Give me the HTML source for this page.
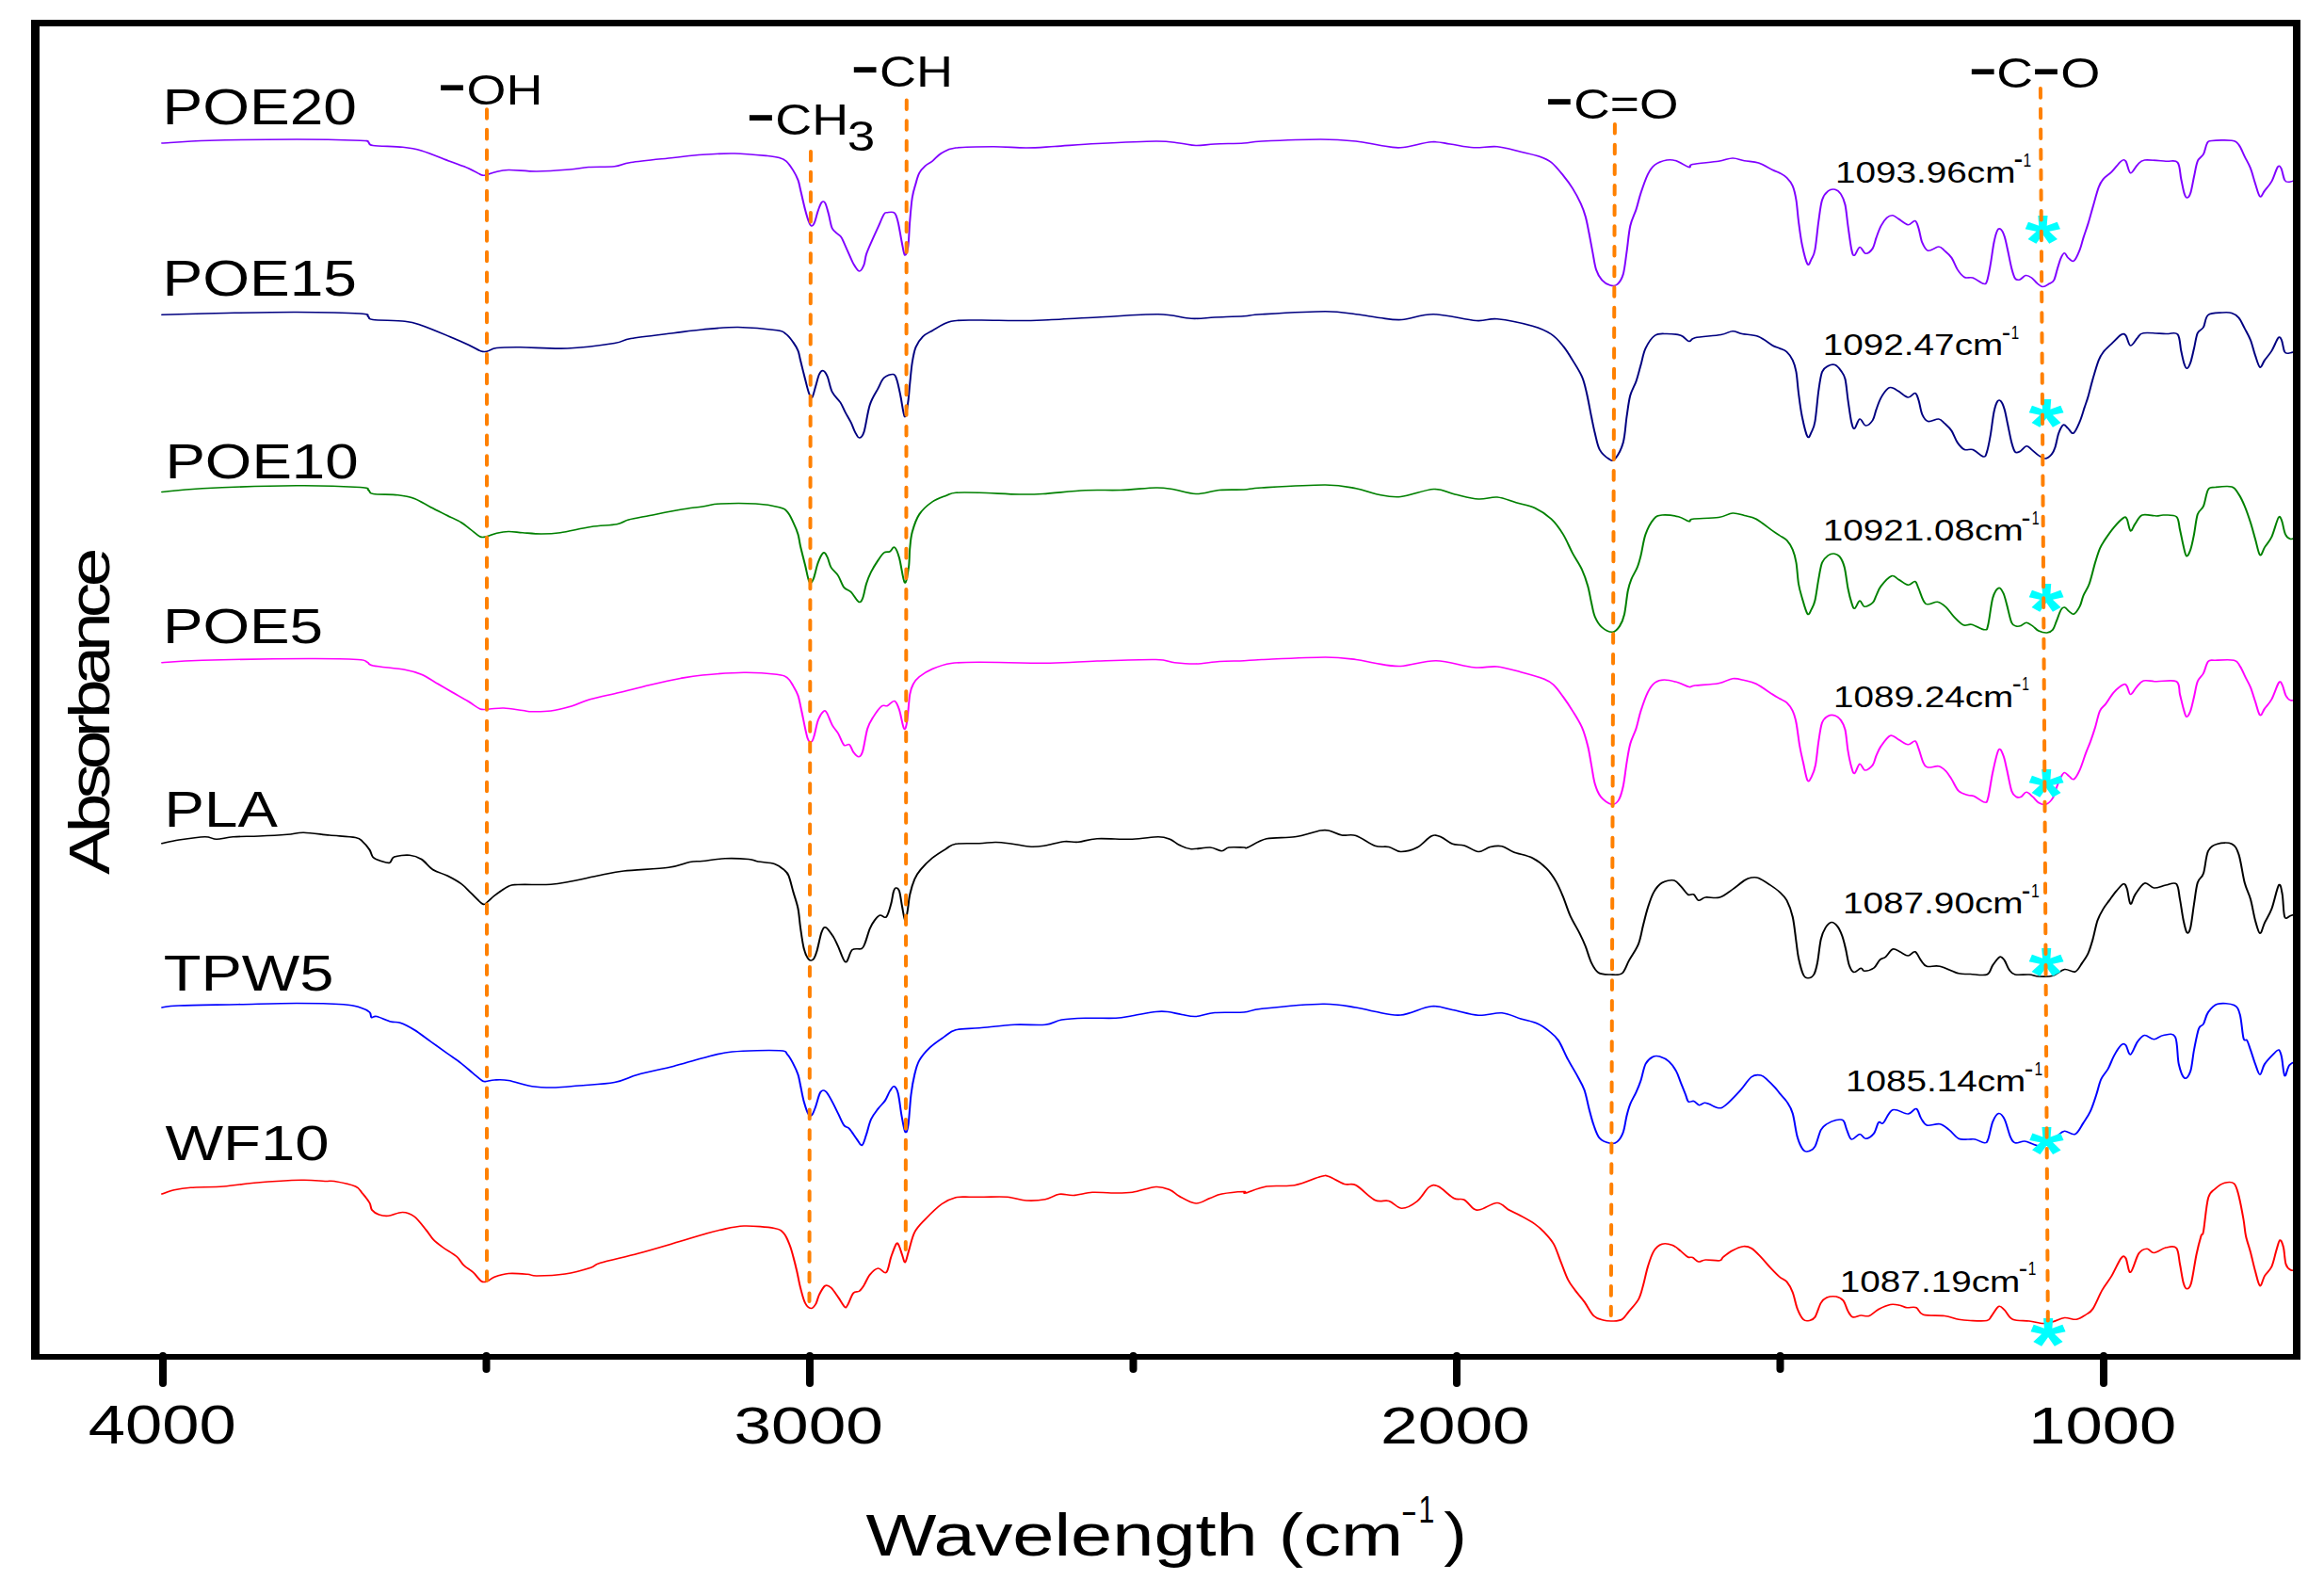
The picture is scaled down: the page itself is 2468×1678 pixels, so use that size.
<!DOCTYPE html><html><head><meta charset="utf-8"><title>FTIR spectra</title><style>html,body{margin:0;padding:0;background:#fff;}svg{display:block;}text{font-family:'Liberation Sans', Arial, Helvetica, sans-serif;}</style></head><body>
<svg width="2468" height="1678" viewBox="0 0 2468 1678">
<rect x="0" y="0" width="2468" height="1678" fill="#fff"/>
<g fill="none" stroke-width="1.6" stroke-linejoin="round" stroke-linecap="round" transform="scale(1.25,1)">
<path stroke="#8000ff" d="M137.60,152.00C144.33,151.54 158.93,149.92 178.00,149.25C197.07,148.58 230.67,148.00 252.00,148.00C273.33,148.00 295.87,148.79 306.00,149.25C316.13,149.71 311.00,149.88 312.80,150.75C314.60,151.62 311.93,153.58 316.80,154.50C321.67,155.42 335.13,155.33 342.00,156.25C348.87,157.17 351.33,157.50 358.00,160.00C364.67,162.50 375.33,168.12 382.00,171.25C388.67,174.38 393.53,176.33 398.00,178.75C402.47,181.17 406.33,184.58 408.80,185.75C411.27,186.92 410.93,186.21 412.80,185.75C414.67,185.29 416.80,183.88 420.00,183.00C423.20,182.12 426.00,180.67 432.00,180.50C438.00,180.33 447.33,182.08 456.00,182.00C464.67,181.92 476.67,180.75 484.00,180.00C491.33,179.25 493.67,178.04 500.00,177.50C506.33,176.96 516.00,177.58 522.00,176.75C528.00,175.92 527.67,174.04 536.00,172.50C544.33,170.96 561.87,168.88 572.00,167.50C582.13,166.12 588.13,165.00 596.80,164.25C605.47,163.50 614.80,162.79 624.00,163.00C633.20,163.21 645.67,164.75 652.00,165.50C658.33,166.25 659.33,166.54 662.00,167.50C664.67,168.46 666.00,168.96 668.00,171.25C670.00,173.54 672.33,177.92 674.00,181.25C675.67,184.58 677.00,187.92 678.00,191.25C679.00,194.58 679.00,196.04 680.00,201.25C681.00,206.46 682.83,216.88 684.00,222.50C685.17,228.12 686.10,232.08 687.00,235.00C687.90,237.92 688.57,239.79 689.40,240.00C690.23,240.21 691.07,238.96 692.00,236.25C692.93,233.54 694.00,227.29 695.00,223.75C696.00,220.21 697.00,216.38 698.00,215.00C699.00,213.62 700.00,213.42 701.00,215.50C702.00,217.58 703.00,223.00 704.00,227.50C705.00,232.00 705.67,238.96 707.00,242.50C708.33,246.04 710.67,247.08 712.00,248.75C713.33,250.42 713.67,249.58 715.00,252.50C716.33,255.42 718.33,261.67 720.00,266.25C721.67,270.83 723.33,276.38 725.00,280.00C726.67,283.62 728.50,287.79 730.00,288.00C731.50,288.21 733.00,284.25 734.00,281.25C735.00,278.25 734.83,274.38 736.00,270.00C737.17,265.62 739.33,259.79 741.00,255.00C742.67,250.21 744.33,245.83 746.00,241.25C747.67,236.67 749.67,230.08 751.00,227.50C752.33,224.92 752.50,225.96 754.00,225.75C755.50,225.54 758.50,224.50 760.00,226.25C761.50,228.00 762.00,231.25 763.00,236.25C764.00,241.25 765.07,250.50 766.00,256.25C766.93,262.00 767.77,269.29 768.60,270.75C769.43,272.21 770.43,267.62 771.00,265.00C771.57,262.38 771.67,260.00 772.00,255.00C772.33,250.00 772.50,242.50 773.00,235.00C773.50,227.50 774.17,216.67 775.00,210.00C775.83,203.33 777.00,199.38 778.00,195.00C779.00,190.62 779.67,186.88 781.00,183.75C782.33,180.62 784.17,178.33 786.00,176.25C787.83,174.17 789.67,173.54 792.00,171.25C794.33,168.96 796.67,164.88 800.00,162.50C803.33,160.12 804.67,158.12 812.00,157.00C819.33,155.88 834.00,155.75 844.00,155.75C854.00,155.75 863.33,157.04 872.00,157.00C880.67,156.96 886.00,156.25 896.00,155.50C906.00,154.75 917.67,153.42 932.00,152.50C946.33,151.58 970.33,150.08 982.00,150.00C993.67,149.92 996.33,151.25 1002.00,152.00C1007.67,152.75 1011.00,154.33 1016.00,154.50C1021.00,154.67 1025.20,153.42 1032.00,153.00C1038.80,152.58 1050.13,152.50 1056.80,152.00C1063.47,151.50 1061.13,150.67 1072.00,150.00C1082.87,149.33 1108.67,148.00 1122.00,148.00C1135.33,148.00 1143.67,148.96 1152.00,150.00C1160.33,151.04 1165.67,153.12 1172.00,154.25C1178.33,155.38 1182.67,157.33 1190.00,156.75C1197.33,156.17 1209.00,151.38 1216.00,150.75C1223.00,150.12 1226.00,152.00 1232.00,153.00C1238.00,154.00 1245.33,156.29 1252.00,156.75C1258.67,157.21 1265.33,155.00 1272.00,155.75C1278.67,156.50 1286.00,159.50 1292.00,161.25C1298.00,163.00 1303.67,164.38 1308.00,166.25C1312.33,168.12 1314.67,169.17 1318.00,172.50C1321.33,175.83 1325.00,181.67 1328.00,186.25C1331.00,190.83 1333.50,195.00 1336.00,200.00C1338.50,205.00 1341.17,211.25 1343.00,216.25C1344.83,221.25 1345.83,224.79 1347.00,230.00C1348.17,235.21 1349.00,241.25 1350.00,247.50C1351.00,253.75 1352.00,261.04 1353.00,267.50C1354.00,273.96 1354.67,281.25 1356.00,286.25C1357.33,291.25 1359.00,294.71 1361.00,297.50C1363.00,300.29 1365.83,302.25 1368.00,303.00C1370.17,303.75 1372.17,303.96 1374.00,302.00C1375.83,300.04 1377.67,297.00 1379.00,291.25C1380.33,285.50 1381.00,276.04 1382.00,267.50C1383.00,258.96 1383.67,247.50 1385.00,240.00C1386.33,232.50 1388.50,228.33 1390.00,222.50C1391.50,216.67 1392.33,211.25 1394.00,205.00C1395.67,198.75 1398.00,190.00 1400.00,185.00C1402.00,180.00 1403.33,177.50 1406.00,175.00C1408.67,172.50 1413.00,170.71 1416.00,170.00C1419.00,169.29 1420.83,169.50 1424.00,170.75C1427.17,172.00 1432.67,176.88 1435.00,177.50C1437.33,178.12 1433.83,175.54 1438.00,174.50C1442.17,173.46 1454.33,172.33 1460.00,171.25C1465.67,170.17 1468.33,168.08 1472.00,168.00C1475.67,167.92 1478.33,169.92 1482.00,170.75C1485.67,171.58 1490.00,171.38 1494.00,173.00C1498.00,174.62 1503.00,178.71 1506.00,180.50C1509.00,182.29 1510.00,182.38 1512.00,183.75C1514.00,185.12 1516.17,186.46 1518.00,188.75C1519.83,191.04 1521.67,193.54 1523.00,197.50C1524.33,201.46 1525.17,206.25 1526.00,212.50C1526.83,218.75 1527.17,227.08 1528.00,235.00C1528.83,242.92 1529.73,252.42 1531.00,260.00C1532.27,267.58 1534.27,278.00 1535.60,280.50C1536.93,283.00 1537.93,277.58 1539.00,275.00C1540.07,272.42 1541.00,271.67 1542.00,265.00C1543.00,258.33 1544.00,243.75 1545.00,235.00C1546.00,226.25 1546.67,217.83 1548.00,212.50C1549.33,207.17 1551.17,204.88 1553.00,203.00C1554.83,201.12 1557.17,200.71 1559.00,201.25C1560.83,201.79 1562.57,203.54 1564.00,206.25C1565.43,208.96 1566.60,211.88 1567.60,217.50C1568.60,223.12 1569.10,232.08 1570.00,240.00C1570.90,247.92 1572.10,259.79 1573.00,265.00C1573.90,270.21 1574.23,271.67 1575.40,271.25C1576.57,270.83 1578.40,262.83 1580.00,262.50C1581.60,262.17 1583.17,269.04 1585.00,269.25C1586.83,269.46 1589.50,266.54 1591.00,263.75C1592.50,260.96 1592.83,256.46 1594.00,252.50C1595.17,248.54 1596.50,243.54 1598.00,240.00C1599.50,236.46 1601.33,233.12 1603.00,231.25C1604.67,229.38 1606.33,228.54 1608.00,228.75C1609.67,228.96 1610.83,230.83 1613.00,232.50C1615.17,234.17 1618.67,238.42 1621.00,238.75C1623.33,239.08 1625.50,233.88 1627.00,234.50C1628.50,235.12 1629.00,238.67 1630.00,242.50C1631.00,246.33 1631.67,253.54 1633.00,257.50C1634.33,261.46 1635.67,265.50 1638.00,266.25C1640.33,267.00 1644.67,262.00 1647.00,262.00C1649.33,262.00 1650.17,264.29 1652.00,266.25C1653.83,268.21 1656.17,270.42 1658.00,273.75C1659.83,277.08 1661.17,282.79 1663.00,286.25C1664.83,289.71 1666.83,293.04 1669.00,294.50C1671.17,295.96 1673.33,293.88 1676.00,295.00C1678.67,296.12 1683.00,300.62 1685.00,301.25C1687.00,301.88 1687.00,302.08 1688.00,298.75C1689.00,295.42 1690.00,288.12 1691.00,281.25C1692.00,274.38 1693.00,263.62 1694.00,257.50C1695.00,251.38 1696.00,246.79 1697.00,244.50C1698.00,242.21 1699.00,242.62 1700.00,243.75C1701.00,244.88 1702.07,247.71 1703.00,251.25C1703.93,254.79 1704.60,259.38 1705.60,265.00C1706.60,270.62 1707.93,279.88 1709.00,285.00C1710.07,290.12 1710.83,293.75 1712.00,295.75C1713.17,297.75 1714.50,297.54 1716.00,297.00C1717.50,296.46 1719.33,292.83 1721.00,292.50C1722.67,292.17 1724.33,293.54 1726.00,295.00C1727.67,296.46 1729.40,299.67 1731.00,301.25C1732.60,302.83 1733.93,304.50 1735.60,304.50C1737.27,304.50 1739.43,302.42 1741.00,301.25C1742.57,300.08 1743.83,300.21 1745.00,297.50C1746.17,294.79 1747.00,288.96 1748.00,285.00C1749.00,281.04 1750.00,276.46 1751.00,273.75C1752.00,271.04 1753.00,268.75 1754.00,268.75C1755.00,268.75 1755.67,272.38 1757.00,273.75C1758.33,275.12 1760.33,278.46 1762.00,277.00C1763.67,275.54 1765.67,269.08 1767.00,265.00C1768.33,260.92 1768.83,257.08 1770.00,252.50C1771.17,247.92 1772.67,242.92 1774.00,237.50C1775.33,232.08 1776.50,226.46 1778.00,220.00C1779.50,213.54 1781.50,203.75 1783.00,198.75C1784.50,193.75 1785.17,192.71 1787.00,190.00C1788.83,187.29 1791.50,185.62 1794.00,182.50C1796.50,179.38 1800.00,173.12 1802.00,171.25C1804.00,169.38 1804.67,169.17 1806.00,171.25C1807.33,173.33 1808.33,183.12 1810.00,183.75C1811.67,184.38 1814.00,177.29 1816.00,175.00C1818.00,172.71 1818.00,170.62 1822.00,170.00C1826.00,169.38 1835.33,170.83 1840.00,171.25C1844.67,171.67 1847.83,169.38 1850.00,172.50C1852.17,175.62 1852.07,184.58 1853.00,190.00C1853.93,195.42 1854.77,201.67 1855.60,205.00C1856.43,208.33 1857.10,210.00 1858.00,210.00C1858.90,210.00 1860.00,208.75 1861.00,205.00C1862.00,201.25 1863.00,193.12 1864.00,187.50C1865.00,181.88 1865.67,175.21 1867.00,171.25C1868.33,167.29 1870.67,166.88 1872.00,163.75C1873.33,160.62 1873.83,154.88 1875.00,152.50C1876.17,150.12 1875.50,150.04 1879.00,149.50C1882.50,148.96 1892.17,148.54 1896.00,149.25C1899.83,149.96 1900.17,150.92 1902.00,153.75C1903.83,156.58 1905.33,162.08 1907.00,166.25C1908.67,170.42 1910.50,173.96 1912.00,178.75C1913.50,183.54 1914.67,190.00 1916.00,195.00C1917.33,200.00 1918.67,207.50 1920.00,208.75C1921.33,210.00 1922.33,205.21 1924.00,202.50C1925.67,199.79 1928.17,196.67 1930.00,192.50C1931.83,188.33 1933.67,179.79 1935.00,177.50C1936.33,175.21 1937.00,176.46 1938.00,178.75C1939.00,181.04 1939.83,188.83 1941.00,191.25C1942.17,193.67 1943.17,193.38 1945.00,193.25C1946.83,193.12 1950.83,190.96 1952.00,190.50"/>
<path stroke="#000080" d="M137.60,334.25C146.67,333.96 172.93,332.96 192.00,332.50C211.07,332.04 233.00,331.42 252.00,331.50C271.00,331.58 295.87,332.21 306.00,333.00C316.13,333.79 311.00,335.17 312.80,336.25C314.60,337.33 311.60,338.67 316.80,339.50C322.00,340.33 337.13,340.25 344.00,341.25C350.87,342.25 351.67,342.79 358.00,345.50C364.33,348.21 375.33,354.04 382.00,357.50C388.67,360.96 393.53,363.67 398.00,366.25C402.47,368.83 406.13,371.88 408.80,373.00C411.47,374.12 411.80,373.58 414.00,373.00C416.20,372.42 417.33,370.21 422.00,369.50C426.67,368.79 432.00,368.67 442.00,368.75C452.00,368.83 468.67,370.71 482.00,370.00C495.33,369.29 513.00,366.25 522.00,364.50C531.00,362.75 527.67,361.29 536.00,359.50C544.33,357.71 561.87,355.33 572.00,353.75C582.13,352.17 587.63,351.04 596.80,350.00C605.97,348.96 616.47,347.38 627.00,347.50C637.53,347.62 653.17,349.50 660.00,350.75C666.83,352.00 665.67,352.83 668.00,355.00C670.33,357.17 672.33,360.83 674.00,363.75C675.67,366.67 677.00,369.38 678.00,372.50C679.00,375.62 679.00,377.50 680.00,382.50C681.00,387.50 682.77,396.58 684.00,402.50C685.23,408.42 686.40,414.75 687.40,418.00C688.40,421.25 689.07,423.33 690.00,422.00C690.93,420.67 692.00,414.08 693.00,410.00C694.00,405.92 694.93,400.21 696.00,397.50C697.07,394.79 698.23,393.33 699.40,393.75C700.57,394.17 701.73,396.25 703.00,400.00C704.27,403.75 705.17,411.67 707.00,416.25C708.83,420.83 712.17,423.96 714.00,427.50C715.83,431.04 716.50,433.96 718.00,437.50C719.50,441.04 721.60,445.21 723.00,448.75C724.40,452.29 725.23,456.04 726.40,458.75C727.57,461.46 728.73,465.00 730.00,465.00C731.27,465.00 732.50,464.58 734.00,458.75C735.50,452.92 737.00,437.71 739.00,430.00C741.00,422.29 744.00,417.29 746.00,412.50C748.00,407.71 748.83,403.75 751.00,401.25C753.17,398.75 757.17,397.08 759.00,397.50C760.83,397.92 761.00,400.00 762.00,403.75C763.00,407.50 763.90,413.54 765.00,420.00C766.10,426.46 767.53,441.25 768.60,442.50C769.67,443.75 770.67,433.33 771.40,427.50C772.13,421.67 772.40,414.58 773.00,407.50C773.60,400.42 774.17,391.46 775.00,385.00C775.83,378.54 776.50,373.33 778.00,368.75C779.50,364.17 781.67,360.42 784.00,357.50C786.33,354.58 788.00,353.96 792.00,351.25C796.00,348.54 801.33,343.12 808.00,341.25C814.67,339.38 823.00,340.12 832.00,340.00C841.00,339.88 853.00,340.50 862.00,340.50C871.00,340.50 874.33,340.58 886.00,340.00C897.67,339.42 915.67,338.04 932.00,337.00C948.33,335.96 970.67,333.54 984.00,333.75C997.33,333.96 1004.00,337.71 1012.00,338.25C1020.00,338.79 1024.53,337.42 1032.00,337.00C1039.47,336.58 1050.13,336.29 1056.80,335.75C1063.47,335.21 1060.47,334.58 1072.00,333.75C1083.53,332.92 1112.67,330.75 1126.00,330.75C1139.33,330.75 1144.33,332.62 1152.00,333.75C1159.67,334.88 1165.50,336.54 1172.00,337.50C1178.50,338.46 1183.33,340.12 1191.00,339.50C1198.67,338.88 1207.50,333.58 1218.00,333.75C1228.50,333.92 1245.00,339.67 1254.00,340.50C1263.00,341.33 1264.00,337.79 1272.00,338.75C1280.00,339.71 1294.33,343.54 1302.00,346.25C1309.67,348.96 1313.67,351.46 1318.00,355.00C1322.33,358.54 1325.00,362.92 1328.00,367.50C1331.00,372.08 1333.33,377.08 1336.00,382.50C1338.67,387.92 1342.00,394.17 1344.00,400.00C1346.00,405.83 1346.67,410.42 1348.00,417.50C1349.33,424.58 1350.83,435.42 1352.00,442.50C1353.17,449.58 1353.83,454.17 1355.00,460.00C1356.17,465.83 1357.00,472.92 1359.00,477.50C1361.00,482.08 1364.83,485.83 1367.00,487.50C1369.17,489.17 1370.00,490.42 1372.00,487.50C1374.00,484.58 1377.33,477.50 1379.00,470.00C1380.67,462.50 1381.00,450.83 1382.00,442.50C1383.00,434.17 1383.67,426.25 1385.00,420.00C1386.33,413.75 1388.50,410.42 1390.00,405.00C1391.50,399.58 1392.67,393.33 1394.00,387.50C1395.33,381.67 1396.00,375.21 1398.00,370.00C1400.00,364.79 1403.00,358.83 1406.00,356.25C1409.00,353.67 1412.33,354.50 1416.00,354.50C1419.67,354.50 1424.83,354.92 1428.00,356.25C1431.17,357.58 1433.00,362.08 1435.00,362.50C1437.00,362.92 1435.50,359.92 1440.00,358.75C1444.50,357.58 1456.67,356.67 1462.00,355.50C1467.33,354.33 1469.00,351.92 1472.00,351.75C1475.00,351.58 1476.33,353.54 1480.00,354.50C1483.67,355.46 1489.67,355.42 1494.00,357.50C1498.33,359.58 1503.00,364.92 1506.00,367.00C1509.00,369.08 1510.00,368.88 1512.00,370.00C1514.00,371.12 1516.17,371.67 1518.00,373.75C1519.83,375.83 1521.67,378.96 1523.00,382.50C1524.33,386.04 1525.17,389.17 1526.00,395.00C1526.83,400.83 1527.17,409.58 1528.00,417.50C1528.83,425.42 1529.73,434.79 1531.00,442.50C1532.27,450.21 1534.27,461.04 1535.60,463.75C1536.93,466.46 1537.93,461.46 1539.00,458.75C1540.07,456.04 1541.00,454.79 1542.00,447.50C1543.00,440.21 1544.00,423.75 1545.00,415.00C1546.00,406.25 1546.67,399.38 1548.00,395.00C1549.33,390.62 1551.17,390.00 1553.00,388.75C1554.83,387.50 1557.17,386.67 1559.00,387.50C1560.83,388.33 1562.57,391.25 1564.00,393.75C1565.43,396.25 1566.60,397.29 1567.60,402.50C1568.60,407.71 1569.10,417.29 1570.00,425.00C1570.90,432.71 1572.07,443.75 1573.00,448.75C1573.93,453.75 1574.43,455.62 1575.60,455.00C1576.77,454.38 1578.43,445.50 1580.00,445.00C1581.57,444.50 1583.17,451.79 1585.00,452.00C1586.83,452.21 1589.50,449.08 1591.00,446.25C1592.50,443.42 1592.83,438.96 1594.00,435.00C1595.17,431.04 1596.33,426.25 1598.00,422.50C1599.67,418.75 1602.33,414.25 1604.00,412.50C1605.67,410.75 1606.50,411.50 1608.00,412.00C1609.50,412.50 1610.83,413.83 1613.00,415.50C1615.17,417.17 1618.67,421.67 1621.00,422.00C1623.33,422.33 1625.50,417.00 1627.00,417.50C1628.50,418.00 1629.00,421.25 1630.00,425.00C1631.00,428.75 1631.67,436.25 1633.00,440.00C1634.33,443.75 1635.67,446.67 1638.00,447.50C1640.33,448.33 1644.67,444.67 1647.00,445.00C1649.33,445.33 1650.17,447.42 1652.00,449.50C1653.83,451.58 1656.17,454.08 1658.00,457.50C1659.83,460.92 1661.17,466.67 1663.00,470.00C1664.83,473.33 1666.83,476.25 1669.00,477.50C1671.17,478.75 1673.33,476.25 1676.00,477.50C1678.67,478.75 1683.00,484.58 1685.00,485.00C1687.00,485.42 1687.00,483.75 1688.00,480.00C1689.00,476.25 1690.00,469.58 1691.00,462.50C1692.00,455.42 1693.00,443.54 1694.00,437.50C1695.00,431.46 1696.00,428.12 1697.00,426.25C1698.00,424.38 1699.00,424.79 1700.00,426.25C1701.00,427.71 1702.07,431.04 1703.00,435.00C1703.93,438.96 1704.60,444.17 1705.60,450.00C1706.60,455.83 1707.93,465.00 1709.00,470.00C1710.07,475.00 1710.83,478.42 1712.00,480.00C1713.17,481.58 1714.40,480.54 1716.00,479.50C1717.60,478.46 1719.93,474.08 1721.60,473.75C1723.27,473.42 1724.27,475.83 1726.00,477.50C1727.73,479.17 1730.07,482.17 1732.00,483.75C1733.93,485.33 1735.77,487.21 1737.60,487.00C1739.43,486.79 1741.60,484.50 1743.00,482.50C1744.40,480.50 1745.00,478.75 1746.00,475.00C1747.00,471.25 1747.83,463.96 1749.00,460.00C1750.17,456.04 1751.67,452.08 1753.00,451.25C1754.33,450.42 1755.57,453.54 1757.00,455.00C1758.43,456.46 1759.93,461.25 1761.60,460.00C1763.27,458.75 1765.43,452.08 1767.00,447.50C1768.57,442.92 1769.83,436.88 1771.00,432.50C1772.17,428.12 1772.83,426.25 1774.00,421.25C1775.17,416.25 1776.50,408.96 1778.00,402.50C1779.50,396.04 1781.50,387.29 1783.00,382.50C1784.50,377.71 1785.17,376.67 1787.00,373.75C1788.83,370.83 1791.50,368.04 1794.00,365.00C1796.50,361.96 1800.00,356.96 1802.00,355.50C1804.00,354.04 1804.67,354.33 1806.00,356.25C1807.33,358.17 1808.33,366.58 1810.00,367.00C1811.67,367.42 1814.17,360.96 1816.00,358.75C1817.83,356.54 1817.00,354.46 1821.00,353.75C1825.00,353.04 1835.17,354.29 1840.00,354.50C1844.83,354.71 1847.83,352.00 1850.00,355.00C1852.17,358.00 1852.07,367.29 1853.00,372.50C1853.93,377.71 1854.77,383.12 1855.60,386.25C1856.43,389.38 1857.10,391.46 1858.00,391.25C1858.90,391.04 1860.00,388.54 1861.00,385.00C1862.00,381.46 1863.00,375.21 1864.00,370.00C1865.00,364.79 1865.67,357.50 1867.00,353.75C1868.33,350.00 1870.50,350.71 1872.00,347.50C1873.50,344.29 1873.33,337.08 1876.00,334.50C1878.67,331.92 1884.67,332.33 1888.00,332.00C1891.33,331.67 1893.67,331.58 1896.00,332.50C1898.33,333.42 1900.17,334.79 1902.00,337.50C1903.83,340.21 1905.33,344.79 1907.00,348.75C1908.67,352.71 1910.50,356.46 1912.00,361.25C1913.50,366.04 1914.67,372.71 1916.00,377.50C1917.33,382.29 1918.67,389.17 1920.00,390.00C1921.33,390.83 1922.33,385.42 1924.00,382.50C1925.67,379.58 1928.07,376.46 1930.00,372.50C1931.93,368.54 1934.20,360.62 1935.60,358.75C1937.00,356.88 1937.50,358.75 1938.40,361.25C1939.30,363.75 1939.90,371.46 1941.00,373.75C1942.10,376.04 1943.17,375.21 1945.00,375.00C1946.83,374.79 1950.83,372.92 1952.00,372.50"/>
<path stroke="#008000" d="M137.60,522.50C143.33,521.88 152.93,519.88 172.00,518.75C191.07,517.62 229.67,515.96 252.00,515.75C274.33,515.54 295.83,516.71 306.00,517.50C316.17,518.29 311.17,519.33 313.00,520.50C314.83,521.67 312.83,523.62 317.00,524.50C321.17,525.38 332.17,524.92 338.00,525.75C343.83,526.58 347.33,527.33 352.00,529.50C356.67,531.67 361.33,535.75 366.00,538.75C370.67,541.75 375.67,544.79 380.00,547.50C384.33,550.21 388.67,552.50 392.00,555.00C395.33,557.50 397.33,560.00 400.00,562.50C402.67,565.00 405.67,568.83 408.00,570.00C410.33,571.17 411.67,570.12 414.00,569.50C416.33,568.88 419.00,567.08 422.00,566.25C425.00,565.42 428.33,564.58 432.00,564.50C435.67,564.42 439.33,565.33 444.00,565.75C448.67,566.17 454.67,567.00 460.00,567.00C465.33,567.00 469.00,567.00 476.00,565.75C483.00,564.50 494.00,561.00 502.00,559.50C510.00,558.00 518.67,558.00 524.00,556.75C529.33,555.50 529.33,553.54 534.00,552.00C538.67,550.46 544.67,549.29 552.00,547.50C559.33,545.71 570.53,542.83 578.00,541.25C585.47,539.67 591.13,539.04 596.80,538.00C602.47,536.96 604.47,535.50 612.00,535.00C619.53,534.50 633.67,534.38 642.00,535.00C650.33,535.62 657.50,537.29 662.00,538.75C666.50,540.21 667.00,541.04 669.00,543.75C671.00,546.46 672.50,551.04 674.00,555.00C675.50,558.96 677.00,563.33 678.00,567.50C679.00,571.67 679.00,574.58 680.00,580.00C681.00,585.42 682.73,593.67 684.00,600.00C685.27,606.33 686.43,615.50 687.60,618.00C688.77,620.50 689.77,618.42 691.00,615.00C692.23,611.58 693.57,602.17 695.00,597.50C696.43,592.83 698.27,587.92 699.60,587.00C700.93,586.08 701.93,589.42 703.00,592.00C704.07,594.58 704.50,599.29 706.00,602.50C707.50,605.71 710.17,607.71 712.00,611.25C713.83,614.79 715.17,620.83 717.00,623.75C718.83,626.67 720.90,626.17 723.00,628.75C725.10,631.33 727.93,638.21 729.60,639.25C731.27,640.29 731.93,638.21 733.00,635.00C734.07,631.79 734.83,624.58 736.00,620.00C737.17,615.42 738.33,611.67 740.00,607.50C741.67,603.33 744.17,598.42 746.00,595.00C747.83,591.58 749.33,588.54 751.00,587.00C752.67,585.46 754.50,586.71 756.00,585.75C757.50,584.79 758.67,580.12 760.00,581.25C761.33,582.38 762.57,586.25 764.00,592.50C765.43,598.75 767.27,617.08 768.60,618.75C769.93,620.42 771.27,608.54 772.00,602.50C772.73,596.46 772.50,588.75 773.00,582.50C773.50,576.25 773.67,571.04 775.00,565.00C776.33,558.96 778.17,551.58 781.00,546.25C783.83,540.92 788.17,536.33 792.00,533.00C795.83,529.67 800.67,527.88 804.00,526.25C807.33,524.62 807.33,523.75 812.00,523.25C816.67,522.75 823.00,522.96 832.00,523.25C841.00,523.54 857.00,524.79 866.00,525.00C875.00,525.21 876.67,525.21 886.00,524.50C895.33,523.79 911.00,521.42 922.00,520.75C933.00,520.08 942.00,520.96 952.00,520.50C962.00,520.04 974.67,518.17 982.00,518.00C989.33,517.83 990.33,518.42 996.00,519.50C1001.67,520.58 1009.33,524.33 1016.00,524.50C1022.67,524.67 1029.20,521.25 1036.00,520.50C1042.80,519.75 1050.80,520.42 1056.80,520.00C1062.80,519.58 1060.47,518.83 1072.00,518.00C1083.53,517.17 1112.67,514.88 1126.00,515.00C1139.33,515.12 1144.67,517.08 1152.00,518.75C1159.33,520.42 1163.67,523.54 1170.00,525.00C1176.33,526.46 1182.00,528.42 1190.00,527.50C1198.00,526.58 1210.33,519.92 1218.00,519.50C1225.67,519.08 1229.67,523.25 1236.00,525.00C1242.33,526.75 1250.00,529.50 1256.00,530.00C1262.00,530.50 1266.67,527.38 1272.00,528.00C1277.33,528.62 1282.67,531.83 1288.00,533.75C1293.33,535.67 1299.00,536.58 1304.00,539.50C1309.00,542.42 1314.00,546.58 1318.00,551.25C1322.00,555.92 1325.00,561.46 1328.00,567.50C1331.00,573.54 1333.33,581.25 1336.00,587.50C1338.67,593.75 1341.83,599.17 1344.00,605.00C1346.17,610.83 1347.67,616.67 1349.00,622.50C1350.33,628.33 1351.00,634.58 1352.00,640.00C1353.00,645.42 1353.50,650.62 1355.00,655.00C1356.50,659.38 1358.50,663.54 1361.00,666.25C1363.50,668.96 1367.50,671.46 1370.00,671.25C1372.50,671.04 1374.33,668.12 1376.00,665.00C1377.67,661.88 1378.83,658.75 1380.00,652.50C1381.17,646.25 1382.00,633.75 1383.00,627.50C1384.00,621.25 1384.67,619.17 1386.00,615.00C1387.33,610.83 1389.67,606.67 1391.00,602.50C1392.33,598.33 1392.83,595.83 1394.00,590.00C1395.17,584.17 1396.17,573.96 1398.00,567.50C1399.83,561.04 1402.67,554.67 1405.00,551.25C1407.33,547.83 1408.50,547.42 1412.00,547.00C1415.50,546.58 1422.17,547.62 1426.00,548.75C1429.83,549.88 1433.00,553.33 1435.00,553.75C1437.00,554.17 1433.83,551.96 1438.00,551.25C1442.17,550.54 1454.33,550.54 1460.00,549.50C1465.67,548.46 1468.33,545.33 1472.00,545.00C1475.67,544.67 1478.67,546.46 1482.00,547.50C1485.33,548.54 1488.00,548.54 1492.00,551.25C1496.00,553.96 1502.67,560.83 1506.00,563.75C1509.33,566.67 1510.00,567.08 1512.00,568.75C1514.00,570.42 1516.17,571.25 1518.00,573.75C1519.83,576.25 1521.67,579.79 1523.00,583.75C1524.33,587.71 1525.17,591.46 1526.00,597.50C1526.83,603.54 1527.17,613.75 1528.00,620.00C1528.83,626.25 1529.73,629.67 1531.00,635.00C1532.27,640.33 1534.27,650.00 1535.60,652.00C1536.93,654.00 1537.93,649.42 1539.00,647.00C1540.07,644.58 1541.00,642.83 1542.00,637.50C1543.00,632.17 1544.00,621.67 1545.00,615.00C1546.00,608.33 1546.67,601.67 1548.00,597.50C1549.33,593.33 1551.33,591.58 1553.00,590.00C1554.67,588.42 1556.33,587.79 1558.00,588.00C1559.67,588.21 1561.50,588.83 1563.00,591.25C1564.50,593.67 1565.83,596.88 1567.00,602.50C1568.17,608.12 1569.00,618.75 1570.00,625.00C1571.00,631.25 1572.07,636.46 1573.00,640.00C1573.93,643.54 1574.43,646.58 1575.60,646.25C1576.77,645.92 1578.60,638.33 1580.00,638.00C1581.40,637.67 1582.17,643.92 1584.00,644.25C1585.83,644.58 1589.33,641.96 1591.00,640.00C1592.67,638.04 1592.83,635.42 1594.00,632.50C1595.17,629.58 1595.83,625.96 1598.00,622.50C1600.17,619.04 1604.50,612.92 1607.00,611.75C1609.50,610.58 1610.67,613.92 1613.00,615.50C1615.33,617.08 1618.67,620.92 1621.00,621.25C1623.33,621.58 1625.50,616.88 1627.00,617.50C1628.50,618.12 1628.50,621.04 1630.00,625.00C1631.50,628.96 1633.33,638.88 1636.00,641.25C1638.67,643.62 1643.17,638.71 1646.00,639.25C1648.83,639.79 1650.67,641.88 1653.00,644.50C1655.33,647.12 1657.50,651.79 1660.00,655.00C1662.50,658.21 1665.50,662.38 1668.00,663.75C1670.50,665.12 1672.00,662.42 1675.00,663.25C1678.00,664.08 1683.67,668.67 1686.00,668.75C1688.33,668.83 1687.83,669.38 1689.00,663.75C1690.17,658.12 1691.50,641.54 1693.00,635.00C1694.50,628.46 1696.50,625.33 1698.00,624.50C1699.50,623.67 1700.83,627.00 1702.00,630.00C1703.17,633.00 1703.83,637.29 1705.00,642.50C1706.17,647.71 1707.67,657.50 1709.00,661.25C1710.33,665.00 1711.67,664.46 1713.00,665.00C1714.33,665.54 1715.57,665.12 1717.00,664.50C1718.43,663.88 1719.93,661.17 1721.60,661.25C1723.27,661.33 1725.27,663.54 1727.00,665.00C1728.73,666.46 1730.00,668.83 1732.00,670.00C1734.00,671.17 1737.00,672.21 1739.00,672.00C1741.00,671.79 1742.67,670.75 1744.00,668.75C1745.33,666.75 1745.83,663.54 1747.00,660.00C1748.17,656.46 1749.83,650.00 1751.00,647.50C1752.17,645.00 1752.83,644.67 1754.00,645.00C1755.17,645.33 1756.67,648.33 1758.00,649.50C1759.33,650.67 1760.50,652.96 1762.00,652.00C1763.50,651.04 1765.67,647.00 1767.00,643.75C1768.33,640.50 1768.67,636.46 1770.00,632.50C1771.33,628.54 1773.33,625.83 1775.00,620.00C1776.67,614.17 1778.50,603.75 1780.00,597.50C1781.50,591.25 1782.67,586.46 1784.00,582.50C1785.33,578.54 1786.00,577.50 1788.00,573.75C1790.00,570.00 1793.33,563.96 1796.00,560.00C1798.67,556.04 1802.17,551.46 1804.00,550.00C1805.83,548.54 1806.00,548.96 1807.00,551.25C1808.00,553.54 1808.83,562.92 1810.00,563.75C1811.17,564.58 1812.33,559.04 1814.00,556.25C1815.67,553.46 1817.00,548.38 1820.00,547.00C1823.00,545.62 1829.00,548.00 1832.00,548.00C1835.00,548.00 1835.17,546.88 1838.00,547.00C1840.83,547.12 1846.67,546.17 1849.00,548.75C1851.33,551.33 1851.00,557.29 1852.00,562.50C1853.00,567.71 1854.07,575.33 1855.00,580.00C1855.93,584.67 1856.60,589.88 1857.60,590.50C1858.60,591.12 1859.93,587.58 1861.00,583.75C1862.07,579.92 1863.00,573.75 1864.00,567.50C1865.00,561.25 1865.67,551.25 1867.00,546.25C1868.33,541.25 1870.50,541.88 1872.00,537.50C1873.50,533.12 1874.33,523.33 1876.00,520.00C1877.67,516.67 1878.67,518.00 1882.00,517.50C1885.33,517.00 1892.67,515.75 1896.00,517.00C1899.33,518.25 1900.17,521.58 1902.00,525.00C1903.83,528.42 1905.33,532.50 1907.00,537.50C1908.67,542.50 1910.50,549.17 1912.00,555.00C1913.50,560.83 1914.67,566.75 1916.00,572.50C1917.33,578.25 1918.67,588.04 1920.00,589.50C1921.33,590.96 1922.33,584.50 1924.00,581.25C1925.67,578.00 1928.07,575.21 1930.00,570.00C1931.93,564.79 1934.20,552.92 1935.60,550.00C1937.00,547.08 1937.40,549.58 1938.40,552.50C1939.40,555.42 1940.33,564.17 1941.60,567.50C1942.87,570.83 1944.27,572.00 1946.00,572.50C1947.73,573.00 1951.00,570.83 1952.00,570.50"/>
<path stroke="#ff00ff" d="M137.60,703.75C143.33,703.33 151.27,701.96 172.00,701.25C192.73,700.54 240.00,699.62 262.00,699.50C284.00,699.38 295.67,699.88 304.00,700.50C312.33,701.12 309.83,702.17 312.00,703.25C314.17,704.33 311.67,705.67 317.00,707.00C322.33,708.33 337.17,709.71 344.00,711.25C350.83,712.79 353.33,713.75 358.00,716.25C362.67,718.75 367.67,723.12 372.00,726.25C376.33,729.38 379.67,731.88 384.00,735.00C388.33,738.12 394.00,742.00 398.00,745.00C402.00,748.00 405.00,751.67 408.00,753.00C411.00,754.33 412.67,753.17 416.00,753.00C419.33,752.83 423.33,751.75 428.00,752.00C432.67,752.25 440.00,753.88 444.00,754.50C448.00,755.12 448.00,755.67 452.00,755.75C456.00,755.83 462.67,755.88 468.00,755.00C473.33,754.12 478.33,752.58 484.00,750.50C489.67,748.42 495.00,745.00 502.00,742.50C509.00,740.00 517.67,738.00 526.00,735.50C534.33,733.00 543.33,730.00 552.00,727.50C560.67,725.00 570.53,722.25 578.00,720.50C585.47,718.75 587.80,718.04 596.80,717.00C605.80,715.96 621.47,714.38 632.00,714.25C642.53,714.12 653.83,715.29 660.00,716.25C666.17,717.21 666.67,717.92 669.00,720.00C671.33,722.08 672.50,725.62 674.00,728.75C675.50,731.88 676.83,734.38 678.00,738.75C679.17,743.12 679.67,747.50 681.00,755.00C682.33,762.50 684.57,778.33 686.00,783.75C687.43,789.17 688.60,788.12 689.60,787.50C690.60,786.88 691.10,783.75 692.00,780.00C692.90,776.25 693.73,769.08 695.00,765.00C696.27,760.92 698.37,756.83 699.60,755.50C700.83,754.17 701.17,754.58 702.40,757.00C703.63,759.42 705.40,766.38 707.00,770.00C708.60,773.62 710.33,775.21 712.00,778.75C713.67,782.29 715.40,789.25 717.00,791.25C718.60,793.25 720.27,789.50 721.60,790.75C722.93,792.00 723.67,796.58 725.00,798.75C726.33,800.92 728.27,803.96 729.60,803.75C730.93,803.54 731.77,802.50 733.00,797.50C734.23,792.50 735.50,779.79 737.00,773.75C738.50,767.71 740.00,765.21 742.00,761.25C744.00,757.29 747.00,751.96 749.00,750.00C751.00,748.04 752.17,750.42 754.00,749.50C755.83,748.58 758.33,743.79 760.00,744.50C761.67,745.21 762.67,748.88 764.00,753.75C765.33,758.62 766.90,771.67 768.00,773.75C769.10,775.83 769.77,772.29 770.60,766.25C771.43,760.21 772.10,744.17 773.00,737.50C773.90,730.83 774.67,729.38 776.00,726.25C777.33,723.12 778.33,721.38 781.00,718.75C783.67,716.12 787.50,712.88 792.00,710.50C796.50,708.12 801.33,705.71 808.00,704.50C814.67,703.29 818.00,703.29 832.00,703.25C846.00,703.21 875.33,704.46 892.00,704.25C908.67,704.04 917.00,702.62 932.00,702.00C947.00,701.38 971.00,700.21 982.00,700.50C993.00,700.79 992.33,703.00 998.00,703.75C1003.67,704.50 1009.67,705.21 1016.00,705.00C1022.33,704.79 1029.20,703.04 1036.00,702.50C1042.80,701.96 1050.80,702.08 1056.80,701.75C1062.80,701.42 1060.47,701.12 1072.00,700.50C1083.53,699.88 1112.67,698.00 1126.00,698.00C1139.33,698.00 1145.00,699.46 1152.00,700.50C1159.00,701.54 1161.67,703.08 1168.00,704.25C1174.33,705.42 1181.33,707.92 1190.00,707.50C1198.67,707.08 1209.67,701.54 1220.00,701.75C1230.33,701.96 1243.33,707.71 1252.00,708.75C1260.67,709.79 1265.33,707.17 1272.00,708.00C1278.67,708.83 1285.33,711.54 1292.00,713.75C1298.67,715.96 1307.33,718.96 1312.00,721.25C1316.67,723.54 1317.33,724.38 1320.00,727.50C1322.67,730.62 1325.33,735.42 1328.00,740.00C1330.67,744.58 1333.33,749.58 1336.00,755.00C1338.67,760.42 1341.83,766.25 1344.00,772.50C1346.17,778.75 1347.67,785.83 1349.00,792.50C1350.33,799.17 1351.00,805.83 1352.00,812.50C1353.00,819.17 1353.67,826.88 1355.00,832.50C1356.33,838.12 1357.67,842.62 1360.00,846.25C1362.33,849.88 1366.50,853.62 1369.00,854.25C1371.50,854.88 1373.33,853.21 1375.00,850.00C1376.67,846.79 1377.83,841.67 1379.00,835.00C1380.17,828.33 1381.00,817.50 1382.00,810.00C1383.00,802.50 1383.67,796.04 1385.00,790.00C1386.33,783.96 1388.50,779.58 1390.00,773.75C1391.50,767.92 1392.33,761.46 1394.00,755.00C1395.67,748.54 1398.00,740.00 1400.00,735.00C1402.00,730.00 1403.67,727.17 1406.00,725.00C1408.33,722.83 1410.67,722.00 1414.00,722.00C1417.33,722.00 1422.50,723.75 1426.00,725.00C1429.50,726.25 1432.67,729.00 1435.00,729.50C1437.33,730.00 1435.83,728.62 1440.00,728.00C1444.17,727.38 1454.67,726.96 1460.00,725.75C1465.33,724.54 1468.33,721.29 1472.00,720.75C1475.67,720.21 1478.67,721.58 1482.00,722.50C1485.33,723.42 1488.00,723.75 1492.00,726.25C1496.00,728.75 1502.67,734.88 1506.00,737.50C1509.33,740.12 1510.00,740.54 1512.00,742.00C1514.00,743.46 1516.17,744.08 1518.00,746.25C1519.83,748.42 1521.67,751.46 1523.00,755.00C1524.33,758.54 1525.00,761.25 1526.00,767.50C1527.00,773.75 1528.00,785.42 1529.00,792.50C1530.00,799.58 1530.90,803.96 1532.00,810.00C1533.10,816.04 1534.43,826.25 1535.60,828.75C1536.77,831.25 1537.87,827.71 1539.00,825.00C1540.13,822.29 1541.40,818.75 1542.40,812.50C1543.40,806.25 1544.07,795.00 1545.00,787.50C1545.93,780.00 1546.67,772.00 1548.00,767.50C1549.33,763.00 1551.17,761.75 1553.00,760.50C1554.83,759.25 1557.17,759.25 1559.00,760.00C1560.83,760.75 1562.57,762.50 1564.00,765.00C1565.43,767.50 1566.60,769.58 1567.60,775.00C1568.60,780.42 1569.10,790.83 1570.00,797.50C1570.90,804.17 1572.07,811.04 1573.00,815.00C1573.93,818.96 1574.43,821.88 1575.60,821.25C1576.77,820.62 1578.53,811.79 1580.00,811.25C1581.47,810.71 1582.57,817.79 1584.40,818.00C1586.23,818.21 1589.40,815.08 1591.00,812.50C1592.60,809.92 1592.83,805.83 1594.00,802.50C1595.17,799.17 1596.00,796.04 1598.00,792.50C1600.00,788.96 1603.50,782.42 1606.00,781.25C1608.50,780.08 1610.50,783.92 1613.00,785.50C1615.50,787.08 1618.67,790.50 1621.00,790.75C1623.33,791.00 1625.50,786.29 1627.00,787.00C1628.50,787.71 1628.83,791.17 1630.00,795.00C1631.17,798.83 1632.67,806.67 1634.00,810.00C1635.33,813.33 1635.83,814.38 1638.00,815.00C1640.17,815.62 1644.50,813.12 1647.00,813.75C1649.50,814.38 1651.17,816.46 1653.00,818.75C1654.83,821.04 1656.17,823.96 1658.00,827.50C1659.83,831.04 1661.67,837.17 1664.00,840.00C1666.33,842.83 1669.83,843.58 1672.00,844.50C1674.17,845.42 1674.67,844.25 1677.00,845.50C1679.33,846.75 1684.00,851.67 1686.00,852.00C1688.00,852.33 1687.83,852.83 1689.00,847.50C1690.17,842.17 1691.50,828.54 1693.00,820.00C1694.50,811.46 1696.50,799.17 1698.00,796.25C1699.50,793.33 1700.83,798.96 1702.00,802.50C1703.17,806.04 1703.83,811.25 1705.00,817.50C1706.17,823.75 1707.67,835.21 1709.00,840.00C1710.33,844.79 1711.67,845.21 1713.00,846.25C1714.33,847.29 1715.57,847.08 1717.00,846.25C1718.43,845.42 1719.93,841.25 1721.60,841.25C1723.27,841.25 1725.27,844.38 1727.00,846.25C1728.73,848.12 1730.17,851.17 1732.00,852.50C1733.83,853.83 1736.00,855.08 1738.00,854.25C1740.00,853.42 1742.40,850.71 1744.00,847.50C1745.60,844.29 1746.43,838.75 1747.60,835.00C1748.77,831.25 1749.93,827.42 1751.00,825.00C1752.07,822.58 1752.83,820.58 1754.00,820.50C1755.17,820.42 1756.67,823.33 1758.00,824.50C1759.33,825.67 1760.50,828.67 1762.00,827.50C1763.50,826.33 1765.33,822.08 1767.00,817.50C1768.67,812.92 1770.50,805.00 1772.00,800.00C1773.50,795.00 1774.67,792.08 1776.00,787.50C1777.33,782.92 1778.67,777.92 1780.00,772.50C1781.33,767.08 1782.50,759.17 1784.00,755.00C1785.50,750.83 1787.00,750.83 1789.00,747.50C1791.00,744.17 1793.50,738.42 1796.00,735.00C1798.50,731.58 1802.17,728.04 1804.00,727.00C1805.83,725.96 1806.00,727.00 1807.00,728.75C1808.00,730.50 1808.67,737.29 1810.00,737.50C1811.33,737.71 1813.17,732.42 1815.00,730.00C1816.83,727.58 1818.17,724.04 1821.00,723.00C1823.83,721.96 1827.33,723.62 1832.00,723.75C1836.67,723.88 1845.67,721.46 1849.00,723.75C1852.33,726.04 1851.00,732.71 1852.00,737.50C1853.00,742.29 1854.07,748.54 1855.00,752.50C1855.93,756.46 1856.60,760.83 1857.60,761.25C1858.60,761.67 1859.93,758.54 1861.00,755.00C1862.07,751.46 1863.00,745.21 1864.00,740.00C1865.00,734.79 1865.67,727.92 1867.00,723.75C1868.33,719.58 1870.50,718.54 1872.00,715.00C1873.50,711.46 1874.33,704.79 1876.00,702.50C1877.67,700.21 1878.33,701.46 1882.00,701.25C1885.67,701.04 1894.50,700.21 1898.00,701.25C1901.50,702.29 1901.33,704.38 1903.00,707.50C1904.67,710.62 1906.50,716.25 1908.00,720.00C1909.50,723.75 1910.67,725.83 1912.00,730.00C1913.33,734.17 1914.67,740.08 1916.00,745.00C1917.33,749.92 1918.67,758.25 1920.00,759.50C1921.33,760.75 1922.33,755.33 1924.00,752.50C1925.67,749.67 1928.00,747.08 1930.00,742.50C1932.00,737.92 1934.50,727.50 1936.00,725.00C1937.50,722.50 1938.00,725.21 1939.00,727.50C1940.00,729.79 1940.83,736.04 1942.00,738.75C1943.17,741.46 1944.33,743.12 1946.00,743.75C1947.67,744.38 1951.00,742.71 1952.00,742.50"/>
<path stroke="#000000" d="M137.60,895.75C140.00,895.12 145.93,893.17 152.00,892.00C158.07,890.83 168.67,888.88 174.00,888.75C179.33,888.62 180.00,891.25 184.00,891.25C188.00,891.25 192.00,889.29 198.00,888.75C204.00,888.21 212.33,888.42 220.00,888.00C227.67,887.58 237.67,886.88 244.00,886.25C250.33,885.62 252.00,884.12 258.00,884.25C264.00,884.38 272.67,886.12 280.00,887.00C287.33,887.88 297.33,888.38 302.00,889.50C306.67,890.62 306.00,891.58 308.00,893.75C310.00,895.92 312.50,899.71 314.00,902.50C315.50,905.29 315.33,908.50 317.00,910.50C318.67,912.50 321.67,913.54 324.00,914.50C326.33,915.46 329.17,917.00 331.00,916.25C332.83,915.50 332.17,911.33 335.00,910.00C337.83,908.67 344.17,907.83 348.00,908.25C351.83,908.67 354.67,909.92 358.00,912.50C361.33,915.08 364.33,920.83 368.00,923.75C371.67,926.67 376.00,927.50 380.00,930.00C384.00,932.50 388.67,935.71 392.00,938.75C395.33,941.79 397.00,944.71 400.00,948.25C403.00,951.79 407.67,958.38 410.00,960.00C412.33,961.62 412.33,959.46 414.00,958.00C415.67,956.54 417.00,954.04 420.00,951.25C423.00,948.46 428.67,943.21 432.00,941.25C435.33,939.29 434.00,939.83 440.00,939.50C446.00,939.17 460.67,939.79 468.00,939.25C475.33,938.71 477.00,937.88 484.00,936.25C491.00,934.62 502.33,931.38 510.00,929.50C517.67,927.62 520.33,926.38 530.00,925.00C539.67,923.62 558.67,922.83 568.00,921.25C577.33,919.67 581.20,916.62 586.00,915.50C590.80,914.38 591.80,915.12 596.80,914.50C601.80,913.88 609.47,912.08 616.00,911.75C622.53,911.42 631.33,911.96 636.00,912.50C640.67,913.04 640.33,914.17 644.00,915.00C647.67,915.83 654.33,916.04 658.00,917.50C661.67,918.96 664.00,921.67 666.00,923.75C668.00,925.83 668.67,926.04 670.00,930.00C671.33,933.96 672.67,941.67 674.00,947.50C675.33,953.33 677.00,958.75 678.00,965.00C679.00,971.25 679.17,977.92 680.00,985.00C680.83,992.08 681.83,1001.88 683.00,1007.50C684.17,1013.12 685.67,1016.88 687.00,1018.75C688.33,1020.62 689.83,1020.21 691.00,1018.75C692.17,1017.29 692.83,1014.79 694.00,1010.00C695.17,1005.21 696.73,994.17 698.00,990.00C699.27,985.83 699.93,984.17 701.60,985.00C703.27,985.83 706.27,991.67 708.00,995.00C709.73,998.33 710.27,1000.54 712.00,1005.00C713.73,1009.46 716.40,1021.12 718.40,1021.75C720.40,1022.38 721.73,1011.12 724.00,1008.75C726.27,1006.38 730.17,1008.75 732.00,1007.50C733.83,1006.25 733.83,1004.79 735.00,1001.25C736.17,997.71 737.67,990.21 739.00,986.25C740.33,982.29 741.57,979.88 743.00,977.50C744.43,975.12 745.93,972.62 747.60,972.00C749.27,971.38 751.43,975.75 753.00,973.75C754.57,971.75 756.00,964.38 757.00,960.00C758.00,955.62 758.33,950.33 759.00,947.50C759.67,944.67 760.17,943.21 761.00,943.00C761.83,942.79 763.10,943.00 764.00,946.25C764.90,949.50 765.57,957.29 766.40,962.50C767.23,967.71 768.23,976.67 769.00,977.50C769.77,978.33 770.33,972.08 771.00,967.50C771.67,962.92 772.00,955.62 773.00,950.00C774.00,944.38 775.50,938.12 777.00,933.75C778.50,929.38 779.50,927.50 782.00,923.75C784.50,920.00 788.33,915.00 792.00,911.25C795.67,907.50 800.67,903.75 804.00,901.25C807.33,898.75 807.33,897.17 812.00,896.25C816.67,895.33 826.33,896.04 832.00,895.75C837.67,895.46 841.33,894.42 846.00,894.50C850.67,894.58 855.00,895.46 860.00,896.25C865.00,897.04 871.33,898.96 876.00,899.25C880.67,899.54 883.33,898.92 888.00,898.00C892.67,897.08 899.33,894.38 904.00,893.75C908.67,893.12 911.33,894.75 916.00,894.25C920.67,893.75 924.33,891.25 932.00,890.75C939.67,890.25 953.33,891.58 962.00,891.25C970.67,890.92 978.67,888.75 984.00,888.75C989.33,888.75 991.00,889.79 994.00,891.25C997.00,892.71 999.00,895.75 1002.00,897.50C1005.00,899.25 1007.67,901.33 1012.00,901.75C1016.33,902.17 1023.67,899.67 1028.00,900.00C1032.33,900.33 1035.33,903.75 1038.00,903.75C1040.67,903.75 1040.87,900.62 1044.00,900.00C1047.13,899.38 1054.13,900.00 1056.80,900.00C1059.47,900.00 1056.80,901.54 1060.00,900.00C1063.20,898.46 1069.33,892.62 1076.00,890.75C1082.67,888.88 1092.33,890.21 1100.00,888.75C1107.67,887.29 1117.00,883.04 1122.00,882.00C1127.00,880.96 1127.00,881.67 1130.00,882.50C1133.00,883.33 1136.33,886.17 1140.00,887.00C1143.67,887.83 1147.33,885.62 1152.00,887.50C1156.67,889.38 1163.33,896.25 1168.00,898.25C1172.67,900.25 1176.33,898.46 1180.00,899.50C1183.67,900.54 1186.00,904.42 1190.00,904.50C1194.00,904.58 1199.67,902.75 1204.00,900.00C1208.33,897.25 1212.67,889.88 1216.00,888.00C1219.33,886.12 1221.00,887.38 1224.00,888.75C1227.00,890.12 1230.67,894.71 1234.00,896.25C1237.33,897.79 1240.33,896.62 1244.00,898.00C1247.67,899.38 1252.33,904.25 1256.00,904.50C1259.67,904.75 1262.67,900.46 1266.00,899.50C1269.33,898.54 1272.67,897.83 1276.00,898.75C1279.33,899.67 1281.67,902.92 1286.00,905.00C1290.33,907.08 1297.33,908.33 1302.00,911.25C1306.67,914.17 1310.67,918.33 1314.00,922.50C1317.33,926.67 1319.67,931.25 1322.00,936.25C1324.33,941.25 1326.00,946.46 1328.00,952.50C1330.00,958.54 1331.67,966.04 1334.00,972.50C1336.33,978.96 1339.83,985.83 1342.00,991.25C1344.17,996.67 1345.33,999.79 1347.00,1005.00C1348.67,1010.21 1350.17,1017.83 1352.00,1022.50C1353.83,1027.17 1355.33,1030.92 1358.00,1033.00C1360.67,1035.08 1364.67,1034.88 1368.00,1035.00C1371.33,1035.12 1375.33,1036.25 1378.00,1033.75C1380.67,1031.25 1381.67,1025.21 1384.00,1020.00C1386.33,1014.79 1390.00,1008.75 1392.00,1002.50C1394.00,996.25 1394.67,988.96 1396.00,982.50C1397.33,976.04 1398.50,969.58 1400.00,963.75C1401.50,957.92 1403.00,951.88 1405.00,947.50C1407.00,943.12 1409.17,939.58 1412.00,937.50C1414.83,935.42 1419.33,934.38 1422.00,935.00C1424.67,935.62 1426.00,938.75 1428.00,941.25C1430.00,943.75 1432.17,948.54 1434.00,950.00C1435.83,951.46 1437.50,948.96 1439.00,950.00C1440.50,951.04 1441.33,955.75 1443.00,956.25C1444.67,956.75 1446.00,953.54 1449.00,953.00C1452.00,952.46 1457.17,954.42 1461.00,953.00C1464.83,951.58 1468.50,947.50 1472.00,944.50C1475.50,941.50 1479.33,937.08 1482.00,935.00C1484.67,932.92 1486.00,932.42 1488.00,932.00C1490.00,931.58 1491.33,931.17 1494.00,932.50C1496.67,933.83 1501.00,937.50 1504.00,940.00C1507.00,942.50 1509.67,944.79 1512.00,947.50C1514.33,950.21 1516.17,951.88 1518.00,956.25C1519.83,960.62 1521.67,966.46 1523.00,973.75C1524.33,981.04 1525.17,992.71 1526.00,1000.00C1526.83,1007.29 1527.00,1011.67 1528.00,1017.50C1529.00,1023.33 1530.67,1031.46 1532.00,1035.00C1533.33,1038.54 1534.50,1038.75 1536.00,1038.75C1537.50,1038.75 1539.67,1037.71 1541.00,1035.00C1542.33,1032.29 1543.00,1028.75 1544.00,1022.50C1545.00,1016.25 1545.83,1003.75 1547.00,997.50C1548.17,991.25 1549.50,988.00 1551.00,985.00C1552.50,982.00 1554.33,979.71 1556.00,979.50C1557.67,979.29 1559.50,981.38 1561.00,983.75C1562.50,986.12 1563.83,989.79 1565.00,993.75C1566.17,997.71 1567.00,1002.29 1568.00,1007.50C1569.00,1012.71 1569.83,1020.83 1571.00,1025.00C1572.17,1029.17 1573.33,1031.96 1575.00,1032.50C1576.67,1033.04 1579.50,1028.46 1581.00,1028.25C1582.50,1028.04 1582.17,1031.29 1584.00,1031.25C1585.83,1031.21 1589.83,1029.96 1592.00,1028.00C1594.17,1026.04 1595.33,1021.46 1597.00,1019.50C1598.67,1017.54 1600.17,1018.17 1602.00,1016.25C1603.83,1014.33 1606.00,1008.92 1608.00,1008.00C1610.00,1007.08 1611.83,1009.58 1614.00,1010.75C1616.17,1011.92 1618.83,1015.00 1621.00,1015.00C1623.17,1015.00 1625.17,1009.92 1627.00,1010.75C1628.83,1011.58 1630.33,1017.42 1632.00,1020.00C1633.67,1022.58 1634.33,1025.21 1637.00,1026.25C1639.67,1027.29 1643.50,1025.00 1648.00,1026.25C1652.50,1027.50 1659.67,1032.38 1664.00,1033.75C1668.33,1035.12 1670.00,1034.29 1674.00,1034.50C1678.00,1034.71 1684.83,1036.58 1688.00,1035.00C1691.17,1033.42 1691.17,1028.12 1693.00,1025.00C1694.83,1021.88 1697.33,1017.08 1699.00,1016.25C1700.67,1015.42 1701.67,1017.71 1703.00,1020.00C1704.33,1022.29 1705.50,1027.50 1707.00,1030.00C1708.50,1032.50 1709.17,1034.17 1712.00,1035.00C1714.83,1035.83 1720.67,1034.67 1724.00,1035.00C1727.33,1035.33 1728.67,1036.79 1732.00,1037.00C1735.33,1037.21 1740.33,1037.50 1744.00,1036.25C1747.67,1035.00 1750.83,1030.21 1754.00,1029.50C1757.17,1028.79 1760.50,1033.17 1763.00,1032.00C1765.50,1030.83 1767.17,1025.75 1769.00,1022.50C1770.83,1019.25 1772.50,1016.67 1774.00,1012.50C1775.50,1008.33 1776.67,1003.33 1778.00,997.50C1779.33,991.67 1780.50,982.92 1782.00,977.50C1783.50,972.08 1785.33,968.54 1787.00,965.00C1788.67,961.46 1790.17,959.38 1792.00,956.25C1793.83,953.12 1796.00,949.17 1798.00,946.25C1800.00,943.33 1802.50,939.17 1804.00,938.75C1805.50,938.33 1806.00,940.21 1807.00,943.75C1808.00,947.29 1808.83,958.96 1810.00,960.00C1811.17,961.04 1812.00,953.67 1814.00,950.00C1816.00,946.33 1819.33,939.17 1822.00,938.00C1824.67,936.83 1827.00,942.67 1830.00,943.00C1833.00,943.33 1836.83,940.71 1840.00,940.00C1843.17,939.29 1847.00,936.25 1849.00,938.75C1851.00,941.25 1851.00,948.54 1852.00,955.00C1853.00,961.46 1854.00,971.58 1855.00,977.50C1856.00,983.42 1857.00,989.25 1858.00,990.50C1859.00,991.75 1860.00,990.08 1861.00,985.00C1862.00,979.92 1863.00,967.92 1864.00,960.00C1865.00,952.08 1865.67,942.92 1867.00,937.50C1868.33,932.08 1870.50,933.12 1872.00,927.50C1873.50,921.88 1874.00,908.96 1876.00,903.75C1878.00,898.54 1880.67,897.50 1884.00,896.25C1887.33,895.00 1893.00,894.38 1896.00,896.25C1899.00,898.12 1900.17,900.62 1902.00,907.50C1903.83,914.38 1905.33,929.58 1907.00,937.50C1908.67,945.42 1910.50,948.33 1912.00,955.00C1913.50,961.67 1914.67,971.46 1916.00,977.50C1917.33,983.54 1918.67,990.83 1920.00,991.25C1921.33,991.67 1922.33,984.38 1924.00,980.00C1925.67,975.62 1928.00,971.67 1930.00,965.00C1932.00,958.33 1934.50,942.50 1936.00,940.00C1937.50,937.50 1938.17,944.38 1939.00,950.00C1939.83,955.62 1939.83,970.00 1941.00,973.75C1942.17,977.50 1944.17,973.12 1946.00,972.50C1947.83,971.88 1951.00,970.42 1952.00,970.00"/>
<path stroke="#0000ff" d="M137.60,1070.00C140.00,1069.67 141.27,1068.54 152.00,1068.00C162.73,1067.46 185.33,1067.17 202.00,1066.75C218.67,1066.33 237.00,1065.50 252.00,1065.50C267.00,1065.50 283.00,1066.00 292.00,1066.75C301.00,1067.50 302.33,1068.62 306.00,1070.00C309.67,1071.38 312.40,1073.25 314.00,1075.00C315.60,1076.75 314.60,1079.75 315.60,1080.50C316.60,1081.25 317.27,1078.75 320.00,1079.50C322.73,1080.25 328.67,1083.88 332.00,1085.00C335.33,1086.12 336.67,1084.79 340.00,1086.25C343.33,1087.71 347.67,1090.42 352.00,1093.75C356.33,1097.08 361.33,1102.08 366.00,1106.25C370.67,1110.42 375.67,1114.88 380.00,1118.75C384.33,1122.62 388.33,1125.96 392.00,1129.50C395.67,1133.04 399.00,1136.92 402.00,1140.00C405.00,1143.08 408.00,1146.62 410.00,1148.00C412.00,1149.38 412.33,1148.42 414.00,1148.25C415.67,1148.08 417.00,1147.12 420.00,1147.00C423.00,1146.88 426.67,1146.38 432.00,1147.50C437.33,1148.62 445.33,1152.50 452.00,1153.75C458.67,1155.00 465.33,1155.12 472.00,1155.00C478.67,1154.88 483.67,1153.92 492.00,1153.00C500.33,1152.08 513.67,1151.46 522.00,1149.50C530.33,1147.54 533.67,1144.08 542.00,1141.25C550.33,1138.42 562.87,1135.42 572.00,1132.50C581.13,1129.58 588.47,1126.33 596.80,1123.75C605.13,1121.17 611.13,1118.33 622.00,1117.00C632.87,1115.67 654.17,1115.25 662.00,1115.75C669.83,1116.25 667.00,1117.62 669.00,1120.00C671.00,1122.38 672.50,1126.46 674.00,1130.00C675.50,1133.54 677.00,1137.50 678.00,1141.25C679.00,1145.00 679.17,1147.71 680.00,1152.50C680.83,1157.29 681.83,1164.79 683.00,1170.00C684.17,1175.21 685.83,1181.46 687.00,1183.75C688.17,1186.04 689.00,1185.21 690.00,1183.75C691.00,1182.29 691.83,1178.96 693.00,1175.00C694.17,1171.04 695.57,1162.62 697.00,1160.00C698.43,1157.38 699.93,1157.58 701.60,1159.25C703.27,1160.92 705.27,1166.12 707.00,1170.00C708.73,1173.88 710.33,1178.33 712.00,1182.50C713.67,1186.67 715.40,1192.29 717.00,1195.00C718.60,1197.71 719.77,1196.25 721.60,1198.75C723.43,1201.25 726.20,1207.08 728.00,1210.00C729.80,1212.92 731.07,1217.08 732.40,1216.25C733.73,1215.42 734.73,1209.58 736.00,1205.00C737.27,1200.42 738.33,1193.33 740.00,1188.75C741.67,1184.17 744.00,1180.83 746.00,1177.50C748.00,1174.17 750.33,1171.88 752.00,1168.75C753.67,1165.62 754.73,1161.25 756.00,1158.75C757.27,1156.25 758.43,1153.33 759.60,1153.75C760.77,1154.17 761.93,1156.04 763.00,1161.25C764.07,1166.46 765.00,1178.21 766.00,1185.00C767.00,1191.79 768.07,1200.33 769.00,1202.00C769.93,1203.67 770.77,1201.58 771.60,1195.00C772.43,1188.42 773.10,1171.46 774.00,1162.50C774.90,1153.54 775.83,1147.29 777.00,1141.25C778.17,1135.21 778.83,1131.04 781.00,1126.25C783.17,1121.46 786.50,1116.67 790.00,1112.50C793.50,1108.33 798.33,1104.38 802.00,1101.25C805.67,1098.12 807.00,1095.33 812.00,1093.75C817.00,1092.17 823.67,1092.67 832.00,1091.75C840.33,1090.83 852.67,1088.83 862.00,1088.25C871.33,1087.67 881.33,1089.12 888.00,1088.25C894.67,1087.38 896.33,1084.17 902.00,1083.00C907.67,1081.83 914.33,1081.54 922.00,1081.25C929.67,1080.96 941.33,1081.67 948.00,1081.25C954.67,1080.83 956.33,1079.88 962.00,1078.75C967.67,1077.62 977.00,1075.21 982.00,1074.50C987.00,1073.79 988.33,1074.00 992.00,1074.50C995.67,1075.00 1000.00,1076.67 1004.00,1077.50C1008.00,1078.33 1011.33,1079.83 1016.00,1079.50C1020.67,1079.17 1025.20,1076.25 1032.00,1075.50C1038.80,1074.75 1050.13,1075.71 1056.80,1075.00C1063.47,1074.29 1060.80,1072.71 1072.00,1071.25C1083.20,1069.79 1110.67,1066.46 1124.00,1066.25C1137.33,1066.04 1144.67,1068.67 1152.00,1070.00C1159.33,1071.33 1161.67,1072.92 1168.00,1074.25C1174.33,1075.58 1182.00,1078.92 1190.00,1078.00C1198.00,1077.08 1208.67,1069.67 1216.00,1068.75C1223.33,1067.83 1227.33,1070.92 1234.00,1072.50C1240.67,1074.08 1249.00,1077.71 1256.00,1078.25C1263.00,1078.79 1270.00,1075.12 1276.00,1075.75C1282.00,1076.38 1287.00,1080.12 1292.00,1082.00C1297.00,1083.88 1302.00,1084.83 1306.00,1087.00C1310.00,1089.17 1313.00,1092.00 1316.00,1095.00C1319.00,1098.00 1321.33,1100.00 1324.00,1105.00C1326.67,1110.00 1329.33,1118.75 1332.00,1125.00C1334.67,1131.25 1337.67,1137.08 1340.00,1142.50C1342.33,1147.92 1344.33,1151.67 1346.00,1157.50C1347.67,1163.33 1348.67,1171.25 1350.00,1177.50C1351.33,1183.75 1352.50,1189.79 1354.00,1195.00C1355.50,1200.21 1356.67,1205.54 1359.00,1208.75C1361.33,1211.96 1365.50,1213.62 1368.00,1214.25C1370.50,1214.88 1372.17,1214.46 1374.00,1212.50C1375.83,1210.54 1377.67,1207.08 1379.00,1202.50C1380.33,1197.92 1381.00,1190.00 1382.00,1185.00C1383.00,1180.00 1383.67,1176.67 1385.00,1172.50C1386.33,1168.33 1388.50,1164.17 1390.00,1160.00C1391.50,1155.83 1392.67,1152.50 1394.00,1147.50C1395.33,1142.50 1396.33,1134.17 1398.00,1130.00C1399.67,1125.83 1402.00,1123.83 1404.00,1122.50C1406.00,1121.17 1407.67,1121.17 1410.00,1122.00C1412.33,1122.83 1415.67,1124.92 1418.00,1127.50C1420.33,1130.08 1422.33,1133.75 1424.00,1137.50C1425.67,1141.25 1426.67,1145.83 1428.00,1150.00C1429.33,1154.17 1430.93,1159.17 1432.00,1162.50C1433.07,1165.83 1433.23,1168.83 1434.40,1170.00C1435.57,1171.17 1437.47,1168.88 1439.00,1169.50C1440.53,1170.12 1442.10,1173.46 1443.60,1173.75C1445.10,1174.04 1446.60,1171.46 1448.00,1171.25C1449.40,1171.04 1450.00,1171.58 1452.00,1172.50C1454.00,1173.42 1457.67,1176.54 1460.00,1176.75C1462.33,1176.96 1463.00,1176.75 1466.00,1173.75C1469.00,1170.75 1474.33,1163.75 1478.00,1158.75C1481.67,1153.75 1485.00,1146.54 1488.00,1143.75C1491.00,1140.96 1493.67,1141.38 1496.00,1142.00C1498.33,1142.62 1500.00,1145.33 1502.00,1147.50C1504.00,1149.67 1506.33,1152.71 1508.00,1155.00C1509.67,1157.29 1510.33,1158.75 1512.00,1161.25C1513.67,1163.75 1516.17,1166.46 1518.00,1170.00C1519.83,1173.54 1521.50,1176.25 1523.00,1182.50C1524.50,1188.75 1525.50,1201.04 1527.00,1207.50C1528.50,1213.96 1530.33,1218.75 1532.00,1221.25C1533.67,1223.75 1535.33,1223.12 1537.00,1222.50C1538.67,1221.88 1540.33,1221.25 1542.00,1217.50C1543.67,1213.75 1545.33,1203.96 1547.00,1200.00C1548.67,1196.04 1549.83,1195.50 1552.00,1193.75C1554.17,1192.00 1557.67,1190.12 1560.00,1189.50C1562.33,1188.88 1564.50,1188.25 1566.00,1190.00C1567.50,1191.75 1567.83,1196.67 1569.00,1200.00C1570.17,1203.33 1571.17,1209.25 1573.00,1210.00C1574.83,1210.75 1578.00,1204.62 1580.00,1204.50C1582.00,1204.38 1583.00,1209.38 1585.00,1209.25C1587.00,1209.12 1590.17,1206.62 1592.00,1203.75C1593.83,1200.88 1594.67,1193.88 1596.00,1192.00C1597.33,1190.12 1598.00,1194.71 1600.00,1192.50C1602.00,1190.29 1604.50,1180.33 1608.00,1178.75C1611.50,1177.17 1617.67,1183.21 1621.00,1183.00C1624.33,1182.79 1626.17,1176.75 1628.00,1177.50C1629.83,1178.25 1630.50,1184.58 1632.00,1187.50C1633.50,1190.42 1634.33,1193.96 1637.00,1195.00C1639.67,1196.04 1644.83,1192.92 1648.00,1193.75C1651.17,1194.58 1653.33,1197.42 1656.00,1200.00C1658.67,1202.58 1661.33,1207.58 1664.00,1209.25C1666.67,1210.92 1669.67,1209.88 1672.00,1210.00C1674.33,1210.12 1675.67,1209.38 1678.00,1210.00C1680.33,1210.62 1684.17,1213.75 1686.00,1213.75C1687.83,1213.75 1687.83,1213.75 1689.00,1210.00C1690.17,1206.25 1691.50,1195.83 1693.00,1191.25C1694.50,1186.67 1696.33,1182.92 1698.00,1182.50C1699.67,1182.08 1701.33,1184.58 1703.00,1188.75C1704.67,1192.92 1706.50,1203.33 1708.00,1207.50C1709.50,1211.67 1710.00,1213.00 1712.00,1213.75C1714.00,1214.50 1717.50,1211.79 1720.00,1212.00C1722.50,1212.21 1724.67,1214.08 1727.00,1215.00C1729.33,1215.92 1731.50,1217.71 1734.00,1217.50C1736.50,1217.29 1739.67,1215.62 1742.00,1213.75C1744.33,1211.88 1746.00,1208.33 1748.00,1206.25C1750.00,1204.17 1751.50,1201.54 1754.00,1201.25C1756.50,1200.96 1760.33,1205.96 1763.00,1204.50C1765.67,1203.04 1767.83,1196.58 1770.00,1192.50C1772.17,1188.42 1774.17,1185.00 1776.00,1180.00C1777.83,1175.00 1779.50,1168.12 1781.00,1162.50C1782.50,1156.88 1783.33,1150.83 1785.00,1146.25C1786.67,1141.67 1789.17,1139.17 1791.00,1135.00C1792.83,1130.83 1794.17,1125.42 1796.00,1121.25C1797.83,1117.08 1800.33,1111.88 1802.00,1110.00C1803.67,1108.12 1804.67,1108.33 1806.00,1110.00C1807.33,1111.67 1808.33,1120.62 1810.00,1120.00C1811.67,1119.38 1814.00,1109.67 1816.00,1106.25C1818.00,1102.83 1819.67,1099.92 1822.00,1099.50C1824.33,1099.08 1827.33,1103.75 1830.00,1103.75C1832.67,1103.75 1835.00,1099.92 1838.00,1099.50C1841.00,1099.08 1845.83,1096.17 1848.00,1101.25C1850.17,1106.33 1849.67,1122.71 1851.00,1130.00C1852.33,1137.29 1854.33,1143.75 1856.00,1145.00C1857.67,1146.25 1859.67,1142.50 1861.00,1137.50C1862.33,1132.50 1862.83,1122.50 1864.00,1115.00C1865.17,1107.50 1866.67,1097.08 1868.00,1092.50C1869.33,1087.92 1870.67,1090.42 1872.00,1087.50C1873.33,1084.58 1874.00,1078.54 1876.00,1075.00C1878.00,1071.46 1880.33,1067.50 1884.00,1066.25C1887.67,1065.00 1894.83,1065.62 1898.00,1067.50C1901.17,1069.38 1901.67,1071.67 1903.00,1077.50C1904.33,1083.33 1905.00,1097.92 1906.00,1102.50C1907.00,1107.08 1908.00,1102.92 1909.00,1105.00C1910.00,1107.08 1910.83,1110.83 1912.00,1115.00C1913.17,1119.17 1914.67,1125.62 1916.00,1130.00C1917.33,1134.38 1918.67,1141.25 1920.00,1141.25C1921.33,1141.25 1922.00,1133.75 1924.00,1130.00C1926.00,1126.25 1930.00,1121.25 1932.00,1118.75C1934.00,1116.25 1934.93,1114.38 1936.00,1115.00C1937.07,1115.62 1937.57,1117.92 1938.40,1122.50C1939.23,1127.08 1939.90,1141.04 1941.00,1142.50C1942.10,1143.96 1943.17,1133.96 1945.00,1131.25C1946.83,1128.54 1950.83,1127.08 1952.00,1126.25"/>
<path stroke="#ff0000" d="M137.60,1268.00C139.33,1267.29 143.93,1264.88 148.00,1263.75C152.07,1262.62 155.00,1261.88 162.00,1261.25C169.00,1260.62 181.00,1260.83 190.00,1260.00C199.00,1259.17 205.00,1257.38 216.00,1256.25C227.00,1255.12 246.00,1253.54 256.00,1253.25C266.00,1252.96 271.33,1254.29 276.00,1254.50C280.67,1254.71 279.67,1253.58 284.00,1254.50C288.33,1255.42 298.00,1257.83 302.00,1260.00C306.00,1262.17 306.00,1264.58 308.00,1267.50C310.00,1270.42 312.67,1274.58 314.00,1277.50C315.33,1280.42 314.67,1282.92 316.00,1285.00C317.33,1287.08 319.67,1288.96 322.00,1290.00C324.33,1291.04 326.67,1291.67 330.00,1291.25C333.33,1290.83 338.33,1287.38 342.00,1287.50C345.67,1287.62 348.67,1288.88 352.00,1292.00C355.33,1295.12 359.33,1302.21 362.00,1306.25C364.67,1310.29 365.67,1313.21 368.00,1316.25C370.33,1319.29 372.67,1321.46 376.00,1324.50C379.33,1327.54 385.00,1331.29 388.00,1334.50C391.00,1337.71 391.67,1340.96 394.00,1343.75C396.33,1346.54 399.50,1348.42 402.00,1351.25C404.50,1354.08 407.00,1359.17 409.00,1360.75C411.00,1362.33 412.17,1361.50 414.00,1360.75C415.83,1360.00 417.00,1357.62 420.00,1356.25C423.00,1354.88 427.33,1353.00 432.00,1352.50C436.67,1352.00 444.00,1352.83 448.00,1353.25C452.00,1353.67 450.67,1355.04 456.00,1355.00C461.33,1354.96 472.33,1354.46 480.00,1353.00C487.67,1351.54 497.00,1348.21 502.00,1346.25C507.00,1344.29 503.33,1343.75 510.00,1341.25C516.67,1338.75 531.67,1334.71 542.00,1331.25C552.33,1327.79 562.87,1323.83 572.00,1320.50C581.13,1317.17 590.13,1313.62 596.80,1311.25C603.47,1308.88 606.13,1307.79 612.00,1306.25C617.87,1304.71 624.33,1302.29 632.00,1302.00C639.67,1301.71 652.33,1303.17 658.00,1304.50C663.67,1305.83 663.83,1307.00 666.00,1310.00C668.17,1313.00 669.67,1318.33 671.00,1322.50C672.33,1326.67 673.00,1330.42 674.00,1335.00C675.00,1339.58 676.00,1344.58 677.00,1350.00C678.00,1355.42 678.83,1361.88 680.00,1367.50C681.17,1373.12 682.50,1380.08 684.00,1383.75C685.50,1387.42 687.50,1389.29 689.00,1389.50C690.50,1389.71 691.83,1387.42 693.00,1385.00C694.17,1382.58 694.67,1378.25 696.00,1375.00C697.33,1371.75 699.33,1366.75 701.00,1365.50C702.67,1364.25 704.17,1365.50 706.00,1367.50C707.83,1369.50 710.07,1374.08 712.00,1377.50C713.93,1380.92 716.27,1386.54 717.60,1388.00C718.93,1389.46 718.77,1388.71 720.00,1386.25C721.23,1383.79 723.33,1375.75 725.00,1373.25C726.67,1370.75 728.50,1372.62 730.00,1371.25C731.50,1369.88 732.50,1367.92 734.00,1365.00C735.50,1362.08 737.00,1356.75 739.00,1353.75C741.00,1350.75 743.67,1347.42 746.00,1347.00C748.33,1346.58 751.17,1353.25 753.00,1351.25C754.83,1349.25 755.57,1340.08 757.00,1335.00C758.43,1329.92 760.43,1322.62 761.60,1320.75C762.77,1318.88 763.20,1321.79 764.00,1323.75C764.80,1325.71 765.57,1329.71 766.40,1332.50C767.23,1335.29 768.07,1341.12 769.00,1340.50C769.93,1339.88 770.67,1334.04 772.00,1328.75C773.33,1323.46 774.67,1314.38 777.00,1308.75C779.33,1303.12 782.17,1300.00 786.00,1295.00C789.83,1290.00 795.67,1282.62 800.00,1278.75C804.33,1274.88 808.00,1273.00 812.00,1271.75C816.00,1270.50 820.00,1271.33 824.00,1271.25C828.00,1271.17 830.67,1271.25 836.00,1271.25C841.33,1271.25 850.00,1270.62 856.00,1271.25C862.00,1271.88 866.67,1274.58 872.00,1275.00C877.33,1275.42 883.33,1274.88 888.00,1273.75C892.67,1272.62 896.00,1268.96 900.00,1268.25C904.00,1267.54 907.33,1269.83 912.00,1269.50C916.67,1269.17 922.67,1266.67 928.00,1266.25C933.33,1265.83 938.33,1267.00 944.00,1267.00C949.67,1267.00 955.67,1267.33 962.00,1266.25C968.33,1265.17 976.67,1260.92 982.00,1260.50C987.33,1260.08 990.67,1262.08 994.00,1263.75C997.33,1265.42 998.33,1268.12 1002.00,1270.50C1005.67,1272.88 1011.67,1277.67 1016.00,1278.00C1020.33,1278.33 1024.33,1274.17 1028.00,1272.50C1031.67,1270.83 1033.20,1269.17 1038.00,1268.00C1042.80,1266.83 1053.47,1265.67 1056.80,1265.50C1060.13,1265.33 1054.80,1267.92 1058.00,1267.00C1061.20,1266.08 1069.00,1261.38 1076.00,1260.00C1083.00,1258.62 1092.33,1260.50 1100.00,1258.75C1107.67,1257.00 1117.17,1251.04 1122.00,1249.50C1126.83,1247.96 1125.67,1248.17 1129.00,1249.50C1132.33,1250.83 1138.17,1255.96 1142.00,1257.50C1145.83,1259.04 1147.67,1255.92 1152.00,1258.75C1156.33,1261.58 1163.33,1271.71 1168.00,1274.50C1172.67,1277.29 1176.17,1274.04 1180.00,1275.50C1183.83,1276.96 1187.00,1283.21 1191.00,1283.25C1195.00,1283.29 1200.17,1279.50 1204.00,1275.75C1207.83,1272.00 1211.00,1263.38 1214.00,1260.75C1217.00,1258.12 1218.50,1258.04 1222.00,1260.00C1225.50,1261.96 1231.33,1270.12 1235.00,1272.50C1238.67,1274.88 1241.17,1272.38 1244.00,1274.25C1246.83,1276.12 1249.67,1282.04 1252.00,1283.75C1254.33,1285.46 1254.67,1285.54 1258.00,1284.50C1261.33,1283.46 1268.00,1277.42 1272.00,1277.50C1276.00,1277.58 1278.67,1282.71 1282.00,1285.00C1285.33,1287.29 1288.33,1288.75 1292.00,1291.25C1295.67,1293.75 1300.67,1297.08 1304.00,1300.00C1307.33,1302.92 1309.33,1305.21 1312.00,1308.75C1314.67,1312.29 1317.67,1316.04 1320.00,1321.25C1322.33,1326.46 1324.00,1333.75 1326.00,1340.00C1328.00,1346.25 1330.00,1353.75 1332.00,1358.75C1334.00,1363.75 1335.67,1366.04 1338.00,1370.00C1340.33,1373.96 1343.33,1377.92 1346.00,1382.50C1348.67,1387.08 1351.33,1394.25 1354.00,1397.50C1356.67,1400.75 1359.33,1401.08 1362.00,1402.00C1364.67,1402.92 1367.33,1403.12 1370.00,1403.00C1372.67,1402.88 1375.67,1403.00 1378.00,1401.25C1380.33,1399.50 1381.67,1396.04 1384.00,1392.50C1386.33,1388.96 1390.00,1384.58 1392.00,1380.00C1394.00,1375.42 1394.67,1370.83 1396.00,1365.00C1397.33,1359.17 1398.50,1351.04 1400.00,1345.00C1401.50,1338.96 1403.00,1332.71 1405.00,1328.75C1407.00,1324.79 1409.33,1322.29 1412.00,1321.25C1414.67,1320.21 1418.33,1321.25 1421.00,1322.50C1423.67,1323.75 1425.83,1326.67 1428.00,1328.75C1430.17,1330.83 1432.33,1333.88 1434.00,1335.00C1435.67,1336.12 1436.50,1334.67 1438.00,1335.50C1439.50,1336.33 1441.17,1339.58 1443.00,1340.00C1444.83,1340.42 1446.00,1338.21 1449.00,1338.00C1452.00,1337.79 1458.50,1339.25 1461.00,1338.75C1463.50,1338.25 1462.17,1336.79 1464.00,1335.00C1465.83,1333.21 1469.17,1329.88 1472.00,1328.00C1474.83,1326.12 1478.33,1324.12 1481.00,1323.75C1483.67,1323.38 1485.50,1323.88 1488.00,1325.75C1490.50,1327.62 1493.33,1331.58 1496.00,1335.00C1498.67,1338.42 1501.33,1342.71 1504.00,1346.25C1506.67,1349.79 1509.67,1353.75 1512.00,1356.25C1514.33,1358.75 1516.17,1358.54 1518.00,1361.25C1519.83,1363.96 1521.50,1367.71 1523.00,1372.50C1524.50,1377.29 1525.50,1385.21 1527.00,1390.00C1528.50,1394.79 1530.33,1399.17 1532.00,1401.25C1533.67,1403.33 1535.33,1402.92 1537.00,1402.50C1538.67,1402.08 1540.33,1401.88 1542.00,1398.75C1543.67,1395.62 1545.33,1387.21 1547.00,1383.75C1548.67,1380.29 1549.83,1379.12 1552.00,1378.00C1554.17,1376.88 1557.67,1376.46 1560.00,1377.00C1562.33,1377.54 1564.33,1378.67 1566.00,1381.25C1567.67,1383.83 1568.67,1389.58 1570.00,1392.50C1571.33,1395.42 1572.17,1398.00 1574.00,1398.75C1575.83,1399.50 1578.67,1397.21 1581.00,1397.00C1583.33,1396.79 1585.50,1398.58 1588.00,1397.50C1590.50,1396.42 1593.00,1392.50 1596.00,1390.50C1599.00,1388.50 1603.00,1386.21 1606.00,1385.50C1609.00,1384.79 1611.67,1385.71 1614.00,1386.25C1616.33,1386.79 1617.67,1388.33 1620.00,1388.75C1622.33,1389.17 1625.67,1387.50 1628.00,1388.75C1630.33,1390.00 1630.00,1394.79 1634.00,1396.25C1638.00,1397.71 1647.00,1396.67 1652.00,1397.50C1657.00,1398.33 1660.33,1400.42 1664.00,1401.25C1667.67,1402.08 1670.00,1402.29 1674.00,1402.50C1678.00,1402.71 1685.00,1403.33 1688.00,1402.50C1691.00,1401.67 1690.33,1400.00 1692.00,1397.50C1693.67,1395.00 1696.17,1388.54 1698.00,1387.50C1699.83,1386.46 1701.00,1388.96 1703.00,1391.25C1705.00,1393.54 1706.50,1399.29 1710.00,1401.25C1713.50,1403.21 1719.67,1402.29 1724.00,1403.00C1728.33,1403.71 1732.67,1405.38 1736.00,1405.50C1739.33,1405.62 1741.00,1404.75 1744.00,1403.75C1747.00,1402.75 1750.67,1399.92 1754.00,1399.50C1757.33,1399.08 1761.00,1401.79 1764.00,1401.25C1767.00,1400.71 1769.67,1398.12 1772.00,1396.25C1774.33,1394.38 1775.67,1394.38 1778.00,1390.00C1780.33,1385.62 1783.33,1375.83 1786.00,1370.00C1788.67,1364.17 1791.33,1360.62 1794.00,1355.00C1796.67,1349.38 1800.00,1339.38 1802.00,1336.25C1804.00,1333.12 1804.67,1333.75 1806.00,1336.25C1807.33,1338.75 1808.17,1352.08 1810.00,1351.25C1811.83,1350.42 1814.67,1335.42 1817.00,1331.25C1819.33,1327.08 1821.83,1326.38 1824.00,1326.25C1826.17,1326.12 1827.33,1330.71 1830.00,1330.50C1832.67,1330.29 1836.83,1325.83 1840.00,1325.00C1843.17,1324.17 1847.00,1322.58 1849.00,1325.50C1851.00,1328.42 1851.00,1336.33 1852.00,1342.50C1853.00,1348.67 1854.00,1358.12 1855.00,1362.50C1856.00,1366.88 1856.90,1368.75 1858.00,1368.75C1859.10,1368.75 1860.27,1368.54 1861.60,1362.50C1862.93,1356.46 1864.60,1340.83 1866.00,1332.50C1867.40,1324.17 1869.00,1316.67 1870.00,1312.50C1871.00,1308.33 1871.00,1314.17 1872.00,1307.50C1873.00,1300.83 1874.33,1280.00 1876.00,1272.50C1877.67,1265.00 1879.67,1265.21 1882.00,1262.50C1884.33,1259.79 1887.33,1257.17 1890.00,1256.25C1892.67,1255.33 1896.00,1254.71 1898.00,1257.00C1900.00,1259.29 1900.67,1263.67 1902.00,1270.00C1903.33,1276.33 1905.00,1287.92 1906.00,1295.00C1907.00,1302.08 1907.00,1306.67 1908.00,1312.50C1909.00,1318.33 1910.67,1323.75 1912.00,1330.00C1913.33,1336.25 1914.67,1344.08 1916.00,1350.00C1917.33,1355.92 1918.67,1364.67 1920.00,1365.50C1921.33,1366.33 1922.33,1358.42 1924.00,1355.00C1925.67,1351.58 1928.33,1349.58 1930.00,1345.00C1931.67,1340.42 1932.83,1332.17 1934.00,1327.50C1935.17,1322.83 1936.00,1317.42 1937.00,1317.00C1938.00,1316.58 1939.17,1320.75 1940.00,1325.00C1940.83,1329.25 1941.00,1338.54 1942.00,1342.50C1943.00,1346.46 1944.33,1347.71 1946.00,1348.75C1947.67,1349.79 1951.00,1348.75 1952.00,1348.75"/>
</g>
<g>
<text transform="matrix(0.96364 0 0 0.80267 2150.418 284.184)" font-size="100" font-weight="bold" fill="#00ffff">*</text>
<text transform="matrix(0.95325 0 0 0.79467 2154.523 478.932)" font-size="100" font-weight="bold" fill="#00ffff">*</text>
<text transform="matrix(0.95325 0 0 0.80267 2154.523 675.184)" font-size="100" font-weight="bold" fill="#00ffff">*</text>
<text transform="matrix(0.95325 0 0 0.79200 2154.523 871.648)" font-size="100" font-weight="bold" fill="#00ffff">*</text>
<text transform="matrix(0.95325 0 0 0.79733 2154.523 1061.716)" font-size="100" font-weight="bold" fill="#00ffff">*</text>
<text transform="matrix(0.94026 0 0 0.78667 2155.030 1251.380)" font-size="100" font-weight="bold" fill="#00ffff">*</text>
<text transform="matrix(0.96104 0 0 0.80267 2156.219 1455.184)" font-size="100" font-weight="bold" fill="#00ffff">*</text>
</g>
<g stroke="#ff8000" stroke-width="4" stroke-dasharray="9.6 12.05" stroke-linecap="round" fill="none">
<line x1="517" y1="116.2" x2="517" y2="1359.8"/>
<line x1="861" y1="161" x2="859.5" y2="1382"/>
<line x1="962.8" y1="106.5" x2="961.8" y2="1327"/>
<line x1="1714.9" y1="132" x2="1710.8" y2="1397"/>
<line x1="2166.9" y1="94.1" x2="2174.8" y2="1402.6"/>
</g>
<g fill="#000">
<rect x="33" y="21" width="2410" height="7"/>
<rect x="33" y="1438" width="2410" height="6"/>
<rect x="33" y="21" width="9" height="1423"/>
<rect x="2435" y="21" width="8" height="1423"/>
</g>
<g stroke="#000" stroke-width="8" stroke-linecap="round">
<line x1="173" y1="1440" x2="173" y2="1469"/>
<line x1="860" y1="1440" x2="860" y2="1469"/>
<line x1="1547" y1="1440" x2="1547" y2="1469"/>
<line x1="2234" y1="1440" x2="2234" y2="1469"/>
<line x1="516.5" y1="1440" x2="516.5" y2="1454"/>
<line x1="1203.5" y1="1440" x2="1203.5" y2="1454"/>
<line x1="1890.5" y1="1440" x2="1890.5" y2="1454"/>
</g>
<g>
<text transform="matrix(0.64058 0 0 0.53521 172.475 132.465)" font-size="100" fill="#000">POE20</text>
<text transform="matrix(0.64058 0 0 0.53099 172.475 313.969)" font-size="100" fill="#000">POE15</text>
<text transform="matrix(0.63671 0 0 0.52394 175.406 507.676)" font-size="100" fill="#000">POE10</text>
<text transform="matrix(0.63772 0 0 0.51972 172.898 682.580)" font-size="100" fill="#000">POE5</text>
<text transform="matrix(0.63591 0 0 0.53525 174.613 877.932)" font-size="100" fill="#000">PLA</text>
<text transform="matrix(0.65083 0 0 0.52908 173.698 1051.771)" font-size="100" fill="#000">TPW5</text>
<text transform="matrix(0.65295 0 0 0.51831 175.474 1232.382)" font-size="100" fill="#000">WF10</text>
<text transform="matrix(0.97551 0 0 0.72500 463.710 112.112)" font-size="100" fill="#000">-</text>
<text transform="matrix(0.53891 0 0 0.45211 495.475 110.548)" font-size="100" fill="#000">OH</text>
<text transform="matrix(0.98367 0 0 0.75000 791.473 144.875)" font-size="100" fill="#000">-</text>
<text transform="matrix(0.53840 0 0 0.45634 823.308 142.744)" font-size="100" fill="#000">CH</text>
<text transform="matrix(0.53053 0 0 0.44507 899.678 160.055)" font-size="100" fill="#000">3</text>
<text transform="matrix(0.97143 0 0 0.75000 902.529 93.775)" font-size="100" fill="#000">-</text>
<text transform="matrix(0.54068 0 0 0.45634 933.997 91.544)" font-size="100" fill="#000">CH</text>
<text transform="matrix(0.97143 0 0 0.73750 1639.729 128.494)" font-size="100" fill="#000">-</text>
<text transform="matrix(0.53350 0 0 0.44507 1671.332 126.255)" font-size="100" fill="#000">C=O</text>
<text transform="matrix(0.97551 0 0 0.72500 2089.610 95.213)" font-size="100" fill="#000">-</text>
<text transform="matrix(0.53701 0 0 0.44930 2120.315 93.451)" font-size="100" fill="#000">C</text>
<text transform="matrix(0.97551 0 0 0.72500 2156.710 95.213)" font-size="100" fill="#000">-</text>
<text transform="matrix(0.54161 0 0 0.44930 2188.363 93.451)" font-size="100" fill="#000">O</text>
<text transform="matrix(0.38711 0 0 0.30986 1948.997 193.590)" font-size="100" fill="#000">1093.96cm</text>
<text transform="matrix(0.29388 0 0 0.32500 2138.478 180.212)" font-size="100" fill="#000">-</text>
<text transform="matrix(0.15632 0 0 0.20145 2148.428 177.000)" font-size="100" fill="#000">1</text>
<text transform="matrix(0.38690 0 0 0.30986 1935.798 376.790)" font-size="100" fill="#000">1092.47cm</text>
<text transform="matrix(0.28163 0 0 0.28750 2125.733 362.969)" font-size="100" fill="#000">-</text>
<text transform="matrix(0.15172 0 0 0.20145 2135.762 359.900)" font-size="100" fill="#000">1</text>
<text transform="matrix(0.38695 0 0 0.30909 1935.798 573.691)" font-size="100" fill="#000">10921.08cm</text>
<text transform="matrix(0.29796 0 0 0.30000 2146.459 559.850)" font-size="100" fill="#000">-</text>
<text transform="matrix(0.14253 0 0 0.20290 2157.831 556.900)" font-size="100" fill="#000">1</text>
<text transform="matrix(0.38669 0 0 0.30986 1947.000 750.690)" font-size="100" fill="#000">1089.24cm</text>
<text transform="matrix(0.29796 0 0 0.30000 2136.659 736.050)" font-size="100" fill="#000">-</text>
<text transform="matrix(0.13793 0 0 0.19565 2147.266 732.900)" font-size="100" fill="#000">1</text>
<text transform="matrix(0.38773 0 0 0.30845 1956.892 970.492)" font-size="100" fill="#000">1087.90cm</text>
<text transform="matrix(0.28571 0 0 0.31250 2146.714 956.231)" font-size="100" fill="#000">-</text>
<text transform="matrix(0.15862 0 0 0.20000 2157.110 952.800)" font-size="100" fill="#000">1</text>
<text transform="matrix(0.38690 0 0 0.30563 1959.898 1159.494)" font-size="100" fill="#000">1085.14cm</text>
<text transform="matrix(0.28571 0 0 0.30000 2149.714 1145.450)" font-size="100" fill="#000">-</text>
<text transform="matrix(0.15632 0 0 0.19565 2160.428 1141.700)" font-size="100" fill="#000">1</text>
<text transform="matrix(0.38711 0 0 0.30845 1953.797 1371.692)" font-size="100" fill="#000">1087.19cm</text>
<text transform="matrix(0.28163 0 0 0.30000 2143.733 1356.850)" font-size="100" fill="#000">-</text>
<text transform="matrix(0.15402 0 0 0.20145 2153.745 1354.000)" font-size="100" fill="#000">1</text>
<text transform="matrix(0.70577 0 0 0.56761 93.688 1532.532)" font-size="100" fill="#000">4000</text>
<text transform="matrix(0.71189 0 0 0.56338 779.452 1533.037)" font-size="100" fill="#000">3000</text>
<text transform="matrix(0.71382 0 0 0.55915 1466.031 1532.741)" font-size="100" fill="#000">2000</text>
<text transform="matrix(0.70569 0 0 0.55915 2154.207 1532.741)" font-size="100" fill="#000">1000</text>
<text transform="matrix(0.79396 0 0 0.63529 919.503 1651.859)" font-size="100" fill="#000">Wavelength (cm</text>
<text transform="matrix(0.53061 0 0 0.37500 1487.612 1617.338)" font-size="100" fill="#000">-</text>
<text transform="matrix(0.30345 0 0 0.40435 1506.624 1616.900)" font-size="100" fill="#000">1</text>
<text transform="matrix(0.73585 0 0 0.62674 1533.132 1651.239)" font-size="100" fill="#000">)</text>
<text x="1.42 61.00 108.83 150.45 195.62 222.67 270.05 317.40 364.92 408.98" y="0" transform="matrix(0 -0.75000 0.61497 0 115.585 930.000)" font-size="100" fill="#000">Absorbance</text>
</g>
</svg></body></html>
